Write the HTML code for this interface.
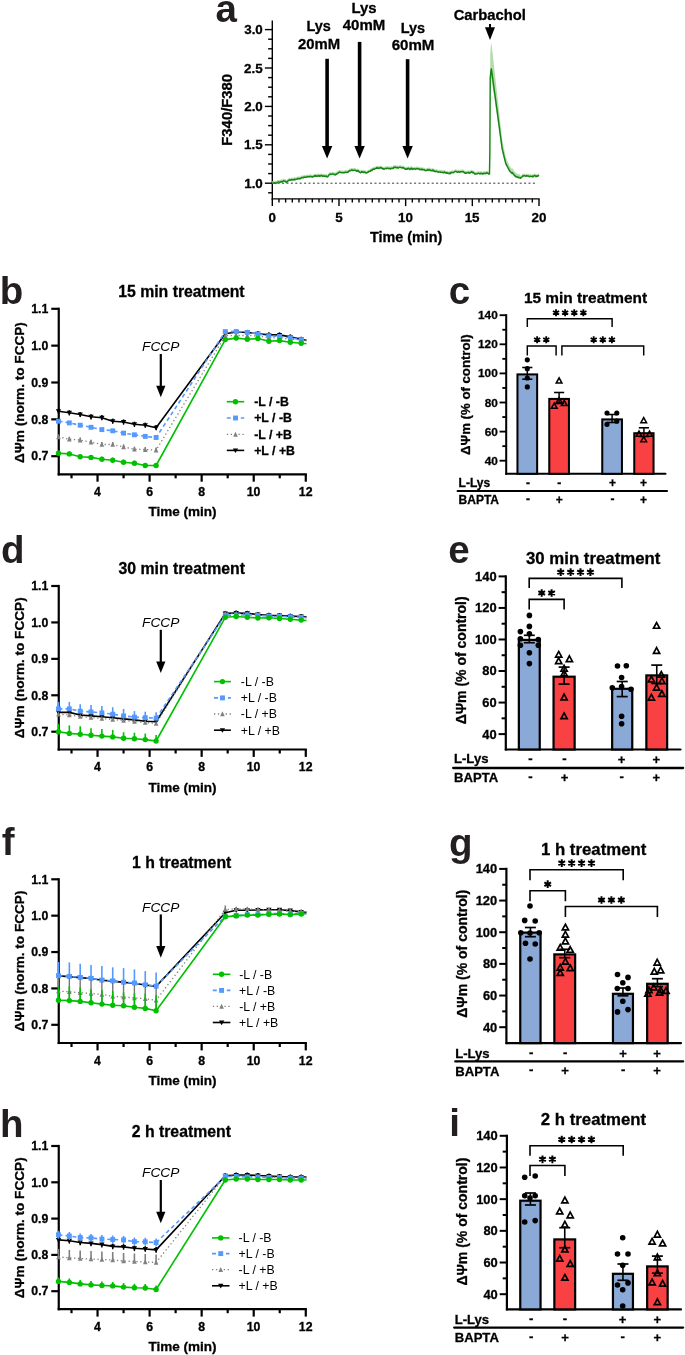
<!DOCTYPE html>
<html><head><meta charset="utf-8"><style>
html,body{margin:0;padding:0;background:#fff;}
svg{display:block;will-change:transform;}
text{font-family:"Liberation Sans",sans-serif;}
</style></head><body>
<svg width="685" height="1355" viewBox="0 0 685 1355">
<rect width="685" height="1355" fill="#fff"/>
<text x="215.54" y="21.81" font-size="38.5" style="font-weight:bold" fill="#231f20">a</text>
<line x1="272.30" y1="20.60" x2="272.30" y2="199.60" stroke="#000" stroke-width="1.4" />
<line x1="264.90" y1="29.60" x2="272.30" y2="29.60" stroke="#000" stroke-width="1.4" />
<line x1="268.10" y1="39.20" x2="272.30" y2="39.20" stroke="#000" stroke-width="1.4" />
<line x1="268.10" y1="48.80" x2="272.30" y2="48.80" stroke="#000" stroke-width="1.4" />
<line x1="268.10" y1="58.40" x2="272.30" y2="58.40" stroke="#000" stroke-width="1.4" />
<line x1="264.90" y1="68.00" x2="272.30" y2="68.00" stroke="#000" stroke-width="1.4" />
<line x1="268.10" y1="77.60" x2="272.30" y2="77.60" stroke="#000" stroke-width="1.4" />
<line x1="268.10" y1="87.20" x2="272.30" y2="87.20" stroke="#000" stroke-width="1.4" />
<line x1="268.10" y1="96.80" x2="272.30" y2="96.80" stroke="#000" stroke-width="1.4" />
<line x1="264.90" y1="106.40" x2="272.30" y2="106.40" stroke="#000" stroke-width="1.4" />
<line x1="268.10" y1="116.00" x2="272.30" y2="116.00" stroke="#000" stroke-width="1.4" />
<line x1="268.10" y1="125.60" x2="272.30" y2="125.60" stroke="#000" stroke-width="1.4" />
<line x1="268.10" y1="135.20" x2="272.30" y2="135.20" stroke="#000" stroke-width="1.4" />
<line x1="264.90" y1="144.80" x2="272.30" y2="144.80" stroke="#000" stroke-width="1.4" />
<line x1="268.10" y1="154.40" x2="272.30" y2="154.40" stroke="#000" stroke-width="1.4" />
<line x1="268.10" y1="164.00" x2="272.30" y2="164.00" stroke="#000" stroke-width="1.4" />
<line x1="268.10" y1="173.60" x2="272.30" y2="173.60" stroke="#000" stroke-width="1.4" />
<line x1="264.90" y1="183.20" x2="272.30" y2="183.20" stroke="#000" stroke-width="1.4" />
<line x1="268.10" y1="192.80" x2="272.30" y2="192.80" stroke="#000" stroke-width="1.4" />
<line x1="271.60" y1="198.90" x2="539.70" y2="198.90" stroke="#000" stroke-width="1.4" />
<line x1="272.30" y1="198.90" x2="272.30" y2="206.10" stroke="#000" stroke-width="1.4" />
<line x1="278.97" y1="198.90" x2="278.97" y2="202.50" stroke="#000" stroke-width="1.4" />
<line x1="285.63" y1="198.90" x2="285.63" y2="202.50" stroke="#000" stroke-width="1.4" />
<line x1="292.30" y1="198.90" x2="292.30" y2="202.50" stroke="#000" stroke-width="1.4" />
<line x1="298.97" y1="198.90" x2="298.97" y2="202.50" stroke="#000" stroke-width="1.4" />
<line x1="305.64" y1="198.90" x2="305.64" y2="202.50" stroke="#000" stroke-width="1.4" />
<line x1="312.31" y1="198.90" x2="312.31" y2="202.50" stroke="#000" stroke-width="1.4" />
<line x1="318.97" y1="198.90" x2="318.97" y2="202.50" stroke="#000" stroke-width="1.4" />
<line x1="325.64" y1="198.90" x2="325.64" y2="202.50" stroke="#000" stroke-width="1.4" />
<line x1="332.31" y1="198.90" x2="332.31" y2="202.50" stroke="#000" stroke-width="1.4" />
<line x1="338.98" y1="198.90" x2="338.98" y2="206.10" stroke="#000" stroke-width="1.4" />
<line x1="345.64" y1="198.90" x2="345.64" y2="202.50" stroke="#000" stroke-width="1.4" />
<line x1="352.31" y1="198.90" x2="352.31" y2="202.50" stroke="#000" stroke-width="1.4" />
<line x1="358.98" y1="198.90" x2="358.98" y2="202.50" stroke="#000" stroke-width="1.4" />
<line x1="365.64" y1="198.90" x2="365.64" y2="202.50" stroke="#000" stroke-width="1.4" />
<line x1="372.31" y1="198.90" x2="372.31" y2="202.50" stroke="#000" stroke-width="1.4" />
<line x1="378.98" y1="198.90" x2="378.98" y2="202.50" stroke="#000" stroke-width="1.4" />
<line x1="385.65" y1="198.90" x2="385.65" y2="202.50" stroke="#000" stroke-width="1.4" />
<line x1="392.32" y1="198.90" x2="392.32" y2="202.50" stroke="#000" stroke-width="1.4" />
<line x1="398.98" y1="198.90" x2="398.98" y2="202.50" stroke="#000" stroke-width="1.4" />
<line x1="405.65" y1="198.90" x2="405.65" y2="206.10" stroke="#000" stroke-width="1.4" />
<line x1="412.32" y1="198.90" x2="412.32" y2="202.50" stroke="#000" stroke-width="1.4" />
<line x1="418.99" y1="198.90" x2="418.99" y2="202.50" stroke="#000" stroke-width="1.4" />
<line x1="425.65" y1="198.90" x2="425.65" y2="202.50" stroke="#000" stroke-width="1.4" />
<line x1="432.32" y1="198.90" x2="432.32" y2="202.50" stroke="#000" stroke-width="1.4" />
<line x1="438.99" y1="198.90" x2="438.99" y2="202.50" stroke="#000" stroke-width="1.4" />
<line x1="445.66" y1="198.90" x2="445.66" y2="202.50" stroke="#000" stroke-width="1.4" />
<line x1="452.32" y1="198.90" x2="452.32" y2="202.50" stroke="#000" stroke-width="1.4" />
<line x1="458.99" y1="198.90" x2="458.99" y2="202.50" stroke="#000" stroke-width="1.4" />
<line x1="465.66" y1="198.90" x2="465.66" y2="202.50" stroke="#000" stroke-width="1.4" />
<line x1="472.33" y1="198.90" x2="472.33" y2="206.10" stroke="#000" stroke-width="1.4" />
<line x1="478.99" y1="198.90" x2="478.99" y2="202.50" stroke="#000" stroke-width="1.4" />
<line x1="485.66" y1="198.90" x2="485.66" y2="202.50" stroke="#000" stroke-width="1.4" />
<line x1="492.33" y1="198.90" x2="492.33" y2="202.50" stroke="#000" stroke-width="1.4" />
<line x1="499.00" y1="198.90" x2="499.00" y2="202.50" stroke="#000" stroke-width="1.4" />
<line x1="505.66" y1="198.90" x2="505.66" y2="202.50" stroke="#000" stroke-width="1.4" />
<line x1="512.33" y1="198.90" x2="512.33" y2="202.50" stroke="#000" stroke-width="1.4" />
<line x1="519.00" y1="198.90" x2="519.00" y2="202.50" stroke="#000" stroke-width="1.4" />
<line x1="525.66" y1="198.90" x2="525.66" y2="202.50" stroke="#000" stroke-width="1.4" />
<line x1="532.33" y1="198.90" x2="532.33" y2="202.50" stroke="#000" stroke-width="1.4" />
<line x1="539.00" y1="198.90" x2="539.00" y2="206.10" stroke="#000" stroke-width="1.4" />
<text x="244.21" y="34.24" font-size="13.40" style="font-weight:bold" fill="#000" stroke="#000" stroke-width="0.3" >3.0</text>
<text x="244.04" y="72.66" font-size="13.40" style="font-weight:bold" fill="#000" stroke="#000" stroke-width="0.3" >2.5</text>
<text x="244.21" y="111.06" font-size="13.40" style="font-weight:bold" fill="#000" stroke="#000" stroke-width="0.3" >2.0</text>
<text x="244.04" y="149.39" font-size="13.40" style="font-weight:bold" fill="#000" stroke="#000" stroke-width="0.3" >1.5</text>
<text x="244.21" y="187.86" font-size="13.40" style="font-weight:bold" fill="#000" stroke="#000" stroke-width="0.3" >1.0</text>
<text x="268.58" y="221.86" font-size="13.40" style="font-weight:bold" fill="#000" stroke="#000" stroke-width="0.3" >0</text>
<text x="335.22" y="221.79" font-size="13.40" style="font-weight:bold" fill="#000" stroke="#000" stroke-width="0.3" >5</text>
<text x="398.06" y="221.86" font-size="13.40" style="font-weight:bold" fill="#000" stroke="#000" stroke-width="0.3" >10</text>
<text x="464.65" y="221.79" font-size="13.40" style="font-weight:bold" fill="#000" stroke="#000" stroke-width="0.3" >15</text>
<text x="531.60" y="221.86" font-size="13.40" style="font-weight:bold" fill="#000" stroke="#000" stroke-width="0.3" >20</text>
<text x="370.02" y="241.80" font-size="14.35" style="font-weight:bold" fill="#000" stroke="#000" stroke-width="0.3" >Time (min)</text>
<text stroke="#000" stroke-width="0.3" transform="translate(231.83,145.70) rotate(-90)" font-size="14.85" style="font-weight:bold" fill="#000">F340/F380</text>
<line x1="273.30" y1="183.20" x2="537.00" y2="183.20" stroke="#111" stroke-width="0.85" stroke-dasharray="2 2.4"/>
<path d="M272.30,181.07 L272.68,181.04 L273.06,181.24 L273.44,181.06 L273.82,180.82 L274.20,180.70 L274.59,181.09 L274.97,180.72 L275.35,180.99 L275.73,181.37 L276.11,180.95 L276.49,180.97 L276.87,180.73 L277.25,180.34 L277.63,180.14 L278.01,179.83 L278.40,179.99 L278.78,179.93 L279.16,179.97 L279.54,180.07 L279.92,180.11 L280.30,179.94 L280.68,179.86 L281.06,179.30 L281.44,179.25 L281.82,179.68 L282.21,179.97 L282.59,179.50 L282.97,178.93 L283.35,178.85 L283.73,178.62 L284.11,178.81 L284.49,178.96 L284.87,178.98 L285.25,179.54 L285.63,179.13 L286.02,179.47 L286.40,180.12 L286.78,180.22 L287.16,179.53 L287.54,179.37 L287.92,178.85 L288.30,178.68 L288.68,178.27 L289.06,178.02 L289.44,177.74 L289.83,177.67 L290.21,178.12 L290.59,178.22 L290.97,177.91 L291.35,177.74 L291.73,177.44 L292.11,177.75 L292.49,177.68 L292.87,177.68 L293.25,177.40 L293.64,177.71 L294.02,177.82 L294.40,177.08 L294.78,177.33 L295.16,177.66 L295.54,177.20 L295.92,177.15 L296.30,177.06 L296.68,177.10 L297.06,176.90 L297.45,176.68 L297.83,176.24 L298.21,176.53 L298.59,176.57 L298.97,176.45 L299.35,176.23 L299.73,176.76 L300.11,176.59 L300.49,176.40 L300.88,176.33 L301.26,175.49 L301.64,175.55 L302.02,175.52 L302.40,175.42 L302.78,175.39 L303.16,175.72 L303.54,175.42 L303.92,174.96 L304.30,175.11 L304.69,174.93 L305.07,174.74 L305.45,175.24 L305.83,175.31 L306.21,175.10 L306.59,174.86 L306.97,174.75 L307.35,174.45 L307.73,174.60 L308.11,174.64 L308.50,174.78 L308.88,174.65 L309.26,174.43 L309.64,174.40 L310.02,174.68 L310.40,174.31 L310.78,174.21 L311.16,174.46 L311.54,174.63 L311.92,174.81 L312.31,174.52 L312.69,174.96 L313.07,174.68 L313.45,174.34 L313.83,174.26 L314.21,173.91 L314.59,173.66 L314.97,174.12 L315.35,173.92 L315.73,173.45 L316.12,173.51 L316.50,174.12 L316.88,174.08 L317.26,174.09 L317.64,173.76 L318.02,173.95 L318.40,173.45 L318.78,173.78 L319.16,173.46 L319.54,174.14 L319.93,173.78 L320.31,173.84 L320.69,173.90 L321.07,173.39 L321.45,173.32 L321.83,173.44 L322.21,173.73 L322.59,174.24 L322.97,174.15 L323.35,173.95 L323.74,173.69 L324.12,173.91 L324.50,174.09 L324.88,174.16 L325.26,174.14 L325.64,174.34 L326.02,173.89 L326.40,173.89 L326.78,174.44 L327.16,174.63 L327.55,174.78 L327.93,174.29 L328.31,173.81 L328.69,173.11 L329.07,172.80 L329.45,172.56 L329.83,172.34 L330.21,171.82 L330.59,172.16 L330.97,172.39 L331.36,172.21 L331.74,172.13 L332.12,171.94 L332.50,171.77 L332.88,171.80 L333.26,172.12 L333.64,172.11 L334.02,172.40 L334.40,172.28 L334.78,172.28 L335.17,172.86 L335.55,172.24 L335.93,172.09 L336.31,172.35 L336.69,172.11 L337.07,171.57 L337.45,171.03 L337.83,171.00 L338.21,171.07 L338.59,170.48 L338.98,170.26 L339.36,170.15 L339.74,169.81 L340.12,170.32 L340.50,170.25 L340.88,170.48 L341.26,170.50 L341.64,170.51 L342.02,170.43 L342.40,170.42 L342.79,170.39 L343.17,170.60 L343.55,170.72 L343.93,170.51 L344.31,170.52 L344.69,170.29 L345.07,170.27 L345.45,170.07 L345.83,170.25 L346.21,170.48 L346.60,170.09 L346.98,170.38 L347.36,169.86 L347.74,170.19 L348.12,169.94 L348.50,169.43 L348.88,169.25 L349.26,168.59 L349.64,168.44 L350.02,168.67 L350.41,168.46 L350.79,168.40 L351.17,167.99 L351.55,167.94 L351.93,167.86 L352.31,168.30 L352.69,167.99 L353.07,168.41 L353.45,168.25 L353.83,168.15 L354.22,168.06 L354.60,168.03 L354.98,168.03 L355.36,168.14 L355.74,168.31 L356.12,168.58 L356.50,169.21 L356.88,168.92 L357.26,168.98 L357.64,168.45 L358.03,168.51 L358.41,168.84 L358.79,169.33 L359.17,169.80 L359.55,169.78 L359.93,170.31 L360.31,170.52 L360.69,170.53 L361.07,170.27 L361.45,169.72 L361.84,169.37 L362.22,169.74 L362.60,170.18 L362.98,169.85 L363.36,170.26 L363.74,170.18 L364.12,170.35 L364.50,169.95 L364.88,170.00 L365.26,169.96 L365.64,170.72 L366.03,170.90 L366.41,170.71 L366.79,170.67 L367.17,170.47 L367.55,170.14 L367.93,170.32 L368.31,169.68 L368.69,169.40 L369.07,169.38 L369.46,169.42 L369.84,169.22 L370.22,169.20 L370.60,168.45 L370.98,168.31 L371.36,167.91 L371.74,168.55 L372.12,168.24 L372.50,167.39 L372.88,167.07 L373.26,167.10 L373.65,166.78 L374.03,167.17 L374.41,167.16 L374.79,166.72 L375.17,166.34 L375.55,166.47 L375.93,166.38 L376.31,166.09 L376.69,165.72 L377.08,166.06 L377.46,165.53 L377.84,166.03 L378.22,166.06 L378.60,166.01 L378.98,166.32 L379.36,166.20 L379.74,165.78 L380.12,165.39 L380.50,165.65 L380.88,165.65 L381.27,166.04 L381.65,165.61 L382.03,166.07 L382.41,166.65 L382.79,166.55 L383.17,166.67 L383.55,166.66 L383.93,167.06 L384.31,166.70 L384.70,166.73 L385.08,166.58 L385.46,166.30 L385.84,166.32 L386.22,166.52 L386.60,166.44 L386.98,166.04 L387.36,166.21 L387.74,166.13 L388.12,166.47 L388.50,166.39 L388.89,166.36 L389.27,166.20 L389.65,166.53 L390.03,166.76 L390.41,166.92 L390.79,166.60 L391.17,166.10 L391.55,166.20 L391.93,166.31 L392.32,166.41 L392.70,166.29 L393.08,165.99 L393.46,165.31 L393.84,165.75 L394.22,165.07 L394.60,165.18 L394.98,165.27 L395.36,165.17 L395.74,165.00 L396.12,165.80 L396.51,165.62 L396.89,165.52 L397.27,165.18 L397.65,165.41 L398.03,166.03 L398.41,165.73 L398.79,165.74 L399.17,165.29 L399.55,165.17 L399.94,165.14 L400.32,165.25 L400.70,165.30 L401.08,165.57 L401.46,165.71 L401.84,165.61 L402.22,165.50 L402.60,165.51 L402.98,165.83 L403.36,165.49 L403.75,165.82 L404.13,166.20 L404.51,166.27 L404.89,166.62 L405.27,167.19 L405.65,167.05 L406.03,166.86 L406.41,166.60 L406.79,167.10 L407.17,166.61 L407.56,166.81 L407.94,166.69 L408.32,166.04 L408.70,166.50 L409.08,166.47 L409.46,166.92 L409.84,167.39 L410.22,167.21 L410.60,166.47 L410.98,166.03 L411.37,166.03 L411.75,166.22 L412.13,167.40 L412.51,166.95 L412.89,166.57 L413.27,166.67 L413.65,166.96 L414.03,166.97 L414.41,166.95 L414.79,166.64 L415.18,166.95 L415.56,167.10 L415.94,166.81 L416.32,166.59 L416.70,166.41 L417.08,166.42 L417.46,166.55 L417.84,166.86 L418.22,166.86 L418.60,166.58 L418.99,166.85 L419.37,166.91 L419.75,167.58 L420.13,167.20 L420.51,167.22 L420.89,167.62 L421.27,167.26 L421.65,166.98 L422.03,167.60 L422.41,167.39 L422.80,167.21 L423.18,167.68 L423.56,167.65 L423.94,167.53 L424.32,167.78 L424.70,167.75 L425.08,168.41 L425.46,168.46 L425.84,168.51 L426.22,168.42 L426.61,168.17 L426.99,167.94 L427.37,167.77 L427.75,167.49 L428.13,168.25 L428.51,167.85 L428.89,167.84 L429.27,167.85 L429.65,167.63 L430.03,167.75 L430.42,168.52 L430.80,168.25 L431.18,168.50 L431.56,168.53 L431.94,168.68 L432.32,168.20 L432.70,167.95 L433.08,168.76 L433.46,168.42 L433.84,168.21 L434.23,169.03 L434.61,169.40 L434.99,169.34 L435.37,169.43 L435.75,169.45 L436.13,168.99 L436.51,169.38 L436.89,169.37 L437.27,169.60 L437.65,169.66 L438.04,169.84 L438.42,170.07 L438.80,169.93 L439.18,169.97 L439.56,169.91 L439.94,169.73 L440.32,170.09 L440.70,170.06 L441.08,170.03 L441.46,170.03 L441.85,170.01 L442.23,170.27 L442.61,170.25 L442.99,170.57 L443.37,170.24 L443.75,170.56 L444.13,170.21 L444.51,169.65 L444.89,170.50 L445.27,170.57 L445.66,170.46 L446.04,171.02 L446.42,170.53 L446.80,170.90 L447.18,170.62 L447.56,171.07 L447.94,171.26 L448.32,171.46 L448.70,171.01 L449.08,171.55 L449.47,171.32 L449.85,170.99 L450.23,171.55 L450.61,170.55 L450.99,170.86 L451.37,170.25 L451.75,170.40 L452.13,170.21 L452.51,170.48 L452.89,170.65 L453.27,170.43 L453.66,170.21 L454.04,169.93 L454.42,169.68 L454.80,169.50 L455.18,169.24 L455.56,169.44 L455.94,169.27 L456.32,169.47 L456.70,169.71 L457.09,169.82 L457.47,170.20 L457.85,169.94 L458.23,169.52 L458.61,169.56 L458.99,169.47 L459.37,170.04 L459.75,170.13 L460.13,169.95 L460.51,169.62 L460.89,169.59 L461.28,169.46 L461.66,169.52 L462.04,169.67 L462.42,169.68 L462.80,169.37 L463.18,169.43 L463.56,169.78 L463.94,170.07 L464.32,170.73 L464.71,170.81 L465.09,170.60 L465.47,171.06 L465.85,170.77 L466.23,171.02 L466.61,170.79 L466.99,170.73 L467.37,170.73 L467.75,170.54 L468.13,170.43 L468.51,170.18 L468.90,170.70 L469.28,171.03 L469.66,170.76 L470.04,170.62 L470.42,170.34 L470.80,170.56 L471.18,170.00 L471.56,169.68 L471.94,169.63 L472.33,170.15 L472.71,170.61 L473.09,170.42 L473.47,170.35 L473.85,170.72 L474.23,171.21 L474.61,171.79 L474.99,171.91 L475.37,171.81 L475.75,171.86 L476.14,171.86 L476.52,171.71 L476.90,171.71 L477.28,171.42 L477.66,171.36 L478.04,171.26 L478.42,171.07 L478.80,171.39 L479.18,171.41 L479.56,171.67 L479.95,171.37 L480.33,171.16 L480.71,171.63 L481.09,171.18 L481.47,171.30 L481.85,171.38 L482.23,171.72 L482.61,171.94 L482.99,171.22 L483.37,171.64 L483.75,171.37 L484.14,171.06 L484.52,171.40 L484.90,171.29 L485.28,171.01 L485.66,171.21 L486.04,171.51 L486.42,170.93 L486.80,170.96 L487.18,170.61 L487.57,170.91 L487.95,171.21 L488.33,171.72 L488.71,171.64 L489.09,171.98 L489.47,171.90 L489.85,151.59 L490.23,53.61 L490.61,49.18 L490.99,44.76 L491.38,42.67 L491.76,46.04 L492.14,49.42 L492.52,52.79 L492.90,56.17 L493.28,59.54 L493.66,62.91 L494.04,66.29 L494.42,69.66 L494.80,73.04 L495.19,76.41 L495.57,79.79 L495.95,83.16 L496.33,86.53 L496.71,89.91 L497.09,93.28 L497.47,96.66 L497.85,100.08 L498.23,103.56 L498.61,107.03 L499.00,110.51 L499.38,113.98 L499.76,117.46 L500.14,120.94 L500.52,124.41 L500.90,127.89 L501.28,131.36 L501.66,134.84 L502.04,138.31 L502.42,140.34 L502.81,142.29 L503.19,144.23 L503.57,146.18 L503.95,148.13 L504.33,150.07 L504.71,152.02 L505.09,153.97 L505.47,155.91 L505.85,157.33 L506.23,158.22 L506.62,159.10 L507.00,159.99 L507.38,160.87 L507.76,161.76 L508.14,162.64 L508.52,163.53 L508.90,164.41 L509.28,165.30 L509.66,166.18 L510.04,166.63 L510.43,167.08 L510.81,167.53 L511.19,167.98 L511.57,168.43 L511.95,168.89 L512.33,168.27 L512.71,168.56 L513.09,169.53 L513.47,170.31 L513.85,170.54 L514.24,171.46 L514.62,171.57 L515.00,171.97 L515.38,173.09 L515.76,172.60 L516.14,173.14 L516.52,173.31 L516.90,173.68 L517.28,173.18 L517.66,173.74 L518.05,174.10 L518.43,174.09 L518.81,174.35 L519.19,174.18 L519.57,174.26 L519.95,174.44 L520.33,176.03 L520.71,175.73 L521.09,175.43 L521.47,175.15 L521.86,174.96 L522.24,174.53 L522.62,174.04 L523.00,173.52 L523.38,173.78 L523.76,173.85 L524.14,173.55 L524.52,173.67 L524.90,173.60 L525.28,173.84 L525.66,174.23 L526.05,174.01 L526.43,173.64 L526.81,173.51 L527.19,173.69 L527.57,173.90 L527.95,173.76 L528.33,173.71 L528.71,174.22 L529.09,174.48 L529.48,174.56 L529.86,174.20 L530.24,174.02 L530.62,174.23 L531.00,174.34 L531.38,174.42 L531.76,174.46 L532.14,174.25 L532.52,173.96 L532.90,174.79 L533.29,174.49 L533.67,174.03 L534.05,173.72 L534.43,173.46 L534.81,173.26 L535.19,173.69 L535.57,173.82 L535.95,174.48 L536.33,173.90 L536.71,174.41 L537.10,173.79 L537.48,174.05 L537.86,173.91 L538.24,173.61 L538.62,173.53 L539.00,173.83 L539.00,176.59 L538.62,176.30 L538.24,176.37 L537.86,176.67 L537.48,176.81 L537.10,176.55 L536.71,177.18 L536.33,176.67 L535.95,177.24 L535.57,176.59 L535.19,176.45 L534.81,176.02 L534.43,176.22 L534.05,176.49 L533.67,176.79 L533.29,177.25 L532.90,177.56 L532.52,176.72 L532.14,177.02 L531.76,177.22 L531.38,177.19 L531.00,177.11 L530.62,177.00 L530.24,176.78 L529.86,176.96 L529.48,177.32 L529.09,177.25 L528.71,176.98 L528.33,176.48 L527.95,176.52 L527.57,176.67 L527.19,176.45 L526.81,176.27 L526.43,176.41 L526.05,176.77 L525.66,177.00 L525.28,176.60 L524.90,176.36 L524.52,176.43 L524.14,176.31 L523.76,176.61 L523.38,176.55 L523.00,176.29 L522.62,176.80 L522.24,177.29 L521.86,177.73 L521.47,177.92 L521.09,178.20 L520.71,178.49 L520.33,178.80 L519.95,178.79 L519.57,178.65 L519.19,178.59 L518.81,178.72 L518.43,178.52 L518.05,178.53 L517.66,178.26 L517.28,177.83 L516.90,178.21 L516.52,177.93 L516.14,177.80 L515.76,177.39 L515.38,177.76 L515.00,176.91 L514.62,176.60 L514.24,176.53 L513.85,175.82 L513.47,175.65 L513.09,175.06 L512.71,174.31 L512.33,174.10 L511.95,174.57 L511.57,174.22 L511.19,173.88 L510.81,173.54 L510.43,173.19 L510.04,172.85 L509.66,172.51 L509.28,171.84 L508.90,171.16 L508.52,170.49 L508.14,169.82 L507.76,169.14 L507.38,168.47 L507.00,167.80 L506.62,167.13 L506.23,166.45 L505.85,165.78 L505.47,164.70 L505.09,163.22 L504.71,161.74 L504.33,160.26 L503.95,158.78 L503.57,157.30 L503.19,155.82 L502.81,154.34 L502.42,152.86 L502.04,151.32 L501.66,148.68 L501.28,146.04 L500.90,143.39 L500.52,140.75 L500.14,138.11 L499.76,135.47 L499.38,132.82 L499.00,130.18 L498.61,127.54 L498.23,124.89 L497.85,122.25 L497.47,119.65 L497.09,117.08 L496.71,114.52 L496.33,111.95 L495.95,109.39 L495.57,106.82 L495.19,104.25 L494.80,101.69 L494.42,99.12 L494.04,96.56 L493.66,93.99 L493.28,91.43 L492.90,88.86 L492.52,86.30 L492.14,83.73 L491.76,81.17 L491.38,78.60 L490.99,80.19 L490.61,83.55 L490.23,86.91 L489.85,154.36 L489.47,174.67 L489.09,174.75 L488.71,174.40 L488.33,174.48 L487.95,173.97 L487.57,173.68 L487.18,173.38 L486.80,173.72 L486.42,173.70 L486.04,174.28 L485.66,173.97 L485.28,173.78 L484.90,174.05 L484.52,174.17 L484.14,173.83 L483.75,174.14 L483.37,174.40 L482.99,173.99 L482.61,174.70 L482.23,174.49 L481.85,174.15 L481.47,174.07 L481.09,173.94 L480.71,174.39 L480.33,173.92 L479.95,174.13 L479.56,174.44 L479.18,174.17 L478.80,174.16 L478.42,173.83 L478.04,174.03 L477.66,174.13 L477.28,174.18 L476.90,174.48 L476.52,174.48 L476.14,174.62 L475.75,174.62 L475.37,174.57 L474.99,174.68 L474.61,174.55 L474.23,173.97 L473.85,173.49 L473.47,173.12 L473.09,173.18 L472.71,173.38 L472.33,172.91 L471.94,172.40 L471.56,172.45 L471.18,172.76 L470.80,173.32 L470.42,173.10 L470.04,173.38 L469.66,173.53 L469.28,173.80 L468.90,173.46 L468.51,172.94 L468.13,173.19 L467.75,173.31 L467.37,173.50 L466.99,173.50 L466.61,173.56 L466.23,173.78 L465.85,173.53 L465.47,173.83 L465.09,173.36 L464.71,173.57 L464.32,173.49 L463.94,172.83 L463.56,172.55 L463.18,172.19 L462.80,172.14 L462.42,172.44 L462.04,172.43 L461.66,172.28 L461.28,172.22 L460.89,172.35 L460.51,172.38 L460.13,172.71 L459.75,172.89 L459.37,172.81 L458.99,172.24 L458.61,172.33 L458.23,172.28 L457.85,172.71 L457.47,172.96 L457.09,172.59 L456.70,172.47 L456.32,172.23 L455.94,172.03 L455.56,172.20 L455.18,172.00 L454.80,172.26 L454.42,172.44 L454.04,172.70 L453.66,172.97 L453.27,173.20 L452.89,173.42 L452.51,173.24 L452.13,172.98 L451.75,173.17 L451.37,173.02 L450.99,173.62 L450.61,173.31 L450.23,174.31 L449.85,173.75 L449.47,174.08 L449.08,174.31 L448.70,173.77 L448.32,174.22 L447.94,174.02 L447.56,173.84 L447.18,173.38 L446.80,173.66 L446.42,173.30 L446.04,173.78 L445.66,173.23 L445.27,173.34 L444.89,173.27 L444.51,172.42 L444.13,172.97 L443.75,173.33 L443.37,173.01 L442.99,173.34 L442.61,173.01 L442.23,173.04 L441.85,172.78 L441.46,172.79 L441.08,172.79 L440.70,172.82 L440.32,172.86 L439.94,172.49 L439.56,172.67 L439.18,172.74 L438.80,172.69 L438.42,172.83 L438.04,172.60 L437.65,172.42 L437.27,172.36 L436.89,172.13 L436.51,172.15 L436.13,171.75 L435.75,172.22 L435.37,172.20 L434.99,172.11 L434.61,172.17 L434.23,171.79 L433.84,170.98 L433.46,171.19 L433.08,171.53 L432.70,170.72 L432.32,170.96 L431.94,171.44 L431.56,171.29 L431.18,171.27 L430.80,171.02 L430.42,171.28 L430.03,170.51 L429.65,170.40 L429.27,170.61 L428.89,170.60 L428.51,170.62 L428.13,171.01 L427.75,170.26 L427.37,170.54 L426.99,170.71 L426.61,170.94 L426.22,171.18 L425.84,171.27 L425.46,171.22 L425.08,171.17 L424.70,170.51 L424.32,170.55 L423.94,170.30 L423.56,170.41 L423.18,170.44 L422.80,169.97 L422.41,170.16 L422.03,170.36 L421.65,169.74 L421.27,170.02 L420.89,170.38 L420.51,169.99 L420.13,169.96 L419.75,170.34 L419.37,169.67 L418.99,169.61 L418.60,169.34 L418.22,169.63 L417.84,169.62 L417.46,169.31 L417.08,169.19 L416.70,169.18 L416.32,169.35 L415.94,169.58 L415.56,169.87 L415.18,169.71 L414.79,169.41 L414.41,169.71 L414.03,169.74 L413.65,169.72 L413.27,169.44 L412.89,169.34 L412.51,169.72 L412.13,170.17 L411.75,168.98 L411.37,168.79 L410.98,168.79 L410.60,169.24 L410.22,169.97 L409.84,170.16 L409.46,169.69 L409.08,169.24 L408.70,169.27 L408.32,168.80 L407.94,169.45 L407.56,169.58 L407.17,169.38 L406.79,169.86 L406.41,169.36 L406.03,169.63 L405.65,169.81 L405.27,169.96 L404.89,169.38 L404.51,169.04 L404.13,168.96 L403.75,168.58 L403.36,168.26 L402.98,168.60 L402.60,168.27 L402.22,168.27 L401.84,168.38 L401.46,168.48 L401.08,168.33 L400.70,168.06 L400.32,168.02 L399.94,167.90 L399.55,167.93 L399.17,168.05 L398.79,168.51 L398.41,168.50 L398.03,168.80 L397.65,168.17 L397.27,167.95 L396.89,168.28 L396.51,168.38 L396.12,168.56 L395.74,167.76 L395.36,167.93 L394.98,168.03 L394.60,167.94 L394.22,167.84 L393.84,168.52 L393.46,168.08 L393.08,168.75 L392.70,169.05 L392.32,169.18 L391.93,169.07 L391.55,168.97 L391.17,168.86 L390.79,169.37 L390.41,169.68 L390.03,169.52 L389.65,169.29 L389.27,168.97 L388.89,169.13 L388.50,169.16 L388.12,169.24 L387.74,168.89 L387.36,168.97 L386.98,168.80 L386.60,169.20 L386.22,169.28 L385.84,169.08 L385.46,169.06 L385.08,169.35 L384.70,169.49 L384.31,169.46 L383.93,169.83 L383.55,169.42 L383.17,169.44 L382.79,169.32 L382.41,169.41 L382.03,168.84 L381.65,168.38 L381.27,168.80 L380.88,168.42 L380.50,168.42 L380.12,168.15 L379.74,168.54 L379.36,168.96 L378.98,169.09 L378.60,168.78 L378.22,168.83 L377.84,168.79 L377.46,168.29 L377.08,168.82 L376.69,168.48 L376.31,168.86 L375.93,169.14 L375.55,169.23 L375.17,169.11 L374.79,169.48 L374.41,169.92 L374.03,169.94 L373.65,169.54 L373.26,169.86 L372.88,169.84 L372.50,170.15 L372.12,171.01 L371.74,171.31 L371.36,170.68 L370.98,171.08 L370.60,171.21 L370.22,171.97 L369.84,171.99 L369.46,172.19 L369.07,172.15 L368.69,172.16 L368.31,172.44 L367.93,173.08 L367.55,172.91 L367.17,173.24 L366.79,173.43 L366.41,173.48 L366.03,173.67 L365.64,173.49 L365.26,172.72 L364.88,172.76 L364.50,172.72 L364.12,173.11 L363.74,172.94 L363.36,173.02 L362.98,172.61 L362.60,172.94 L362.22,172.51 L361.84,172.14 L361.45,172.48 L361.07,173.04 L360.69,173.30 L360.31,173.29 L359.93,173.07 L359.55,172.55 L359.17,172.56 L358.79,172.10 L358.41,171.61 L358.03,171.27 L357.64,171.21 L357.26,171.75 L356.88,171.68 L356.50,171.97 L356.12,171.35 L355.74,171.07 L355.36,170.90 L354.98,170.79 L354.60,170.79 L354.22,170.82 L353.83,170.92 L353.45,171.02 L353.07,171.17 L352.69,170.75 L352.31,171.07 L351.93,170.63 L351.55,170.70 L351.17,170.76 L350.79,171.17 L350.41,171.22 L350.02,171.43 L349.64,171.21 L349.26,171.36 L348.88,172.02 L348.50,172.20 L348.12,172.70 L347.74,172.96 L347.36,172.63 L346.98,173.15 L346.60,172.86 L346.21,173.25 L345.83,173.01 L345.45,172.83 L345.07,173.03 L344.69,173.05 L344.31,173.28 L343.93,173.28 L343.55,173.49 L343.17,173.37 L342.79,173.16 L342.40,173.19 L342.02,173.20 L341.64,173.27 L341.26,173.26 L340.88,173.24 L340.50,173.01 L340.12,173.09 L339.74,172.58 L339.36,172.92 L338.98,173.02 L338.59,173.24 L338.21,173.84 L337.83,173.76 L337.45,173.79 L337.07,174.34 L336.69,174.87 L336.31,175.11 L335.93,174.86 L335.55,175.01 L335.17,175.63 L334.78,175.04 L334.40,175.04 L334.02,175.16 L333.64,174.88 L333.26,174.88 L332.88,174.56 L332.50,174.54 L332.12,174.71 L331.74,174.90 L331.36,174.97 L330.97,175.16 L330.59,174.92 L330.21,174.58 L329.83,175.11 L329.45,175.33 L329.07,175.56 L328.69,175.87 L328.31,176.57 L327.93,177.05 L327.55,177.54 L327.16,177.39 L326.78,177.21 L326.40,176.66 L326.02,176.66 L325.64,177.11 L325.26,176.91 L324.88,176.93 L324.50,176.85 L324.12,176.67 L323.74,176.46 L323.35,176.71 L322.97,176.91 L322.59,177.01 L322.21,176.49 L321.83,176.21 L321.45,176.08 L321.07,176.15 L320.69,176.66 L320.31,176.61 L319.93,176.54 L319.54,176.90 L319.16,176.22 L318.78,176.55 L318.40,176.22 L318.02,176.72 L317.64,176.53 L317.26,176.85 L316.88,176.84 L316.50,176.89 L316.12,176.28 L315.73,176.22 L315.35,176.69 L314.97,176.88 L314.59,176.42 L314.21,176.68 L313.83,177.02 L313.45,177.10 L313.07,177.45 L312.69,177.73 L312.31,177.28 L311.92,177.57 L311.54,177.40 L311.16,177.23 L310.78,176.97 L310.40,177.08 L310.02,177.44 L309.64,177.16 L309.26,177.20 L308.88,177.41 L308.50,177.55 L308.11,177.40 L307.73,177.36 L307.35,177.21 L306.97,177.52 L306.59,177.62 L306.21,177.86 L305.83,178.08 L305.45,178.00 L305.07,177.51 L304.69,177.70 L304.30,177.88 L303.92,177.73 L303.54,178.19 L303.16,178.48 L302.78,178.15 L302.40,178.18 L302.02,178.29 L301.64,178.31 L301.26,178.26 L300.88,179.09 L300.49,179.16 L300.11,179.35 L299.73,179.52 L299.35,179.00 L298.97,179.21 L298.59,179.33 L298.21,179.30 L297.83,179.00 L297.45,179.44 L297.06,179.67 L296.68,179.86 L296.30,179.83 L295.92,179.92 L295.54,179.97 L295.16,180.42 L294.78,180.09 L294.40,179.84 L294.02,180.59 L293.64,180.48 L293.25,180.16 L292.87,180.44 L292.49,180.44 L292.11,180.51 L291.73,180.21 L291.35,180.50 L290.97,180.67 L290.59,180.99 L290.21,180.88 L289.83,180.43 L289.44,180.50 L289.06,180.79 L288.68,181.03 L288.30,181.44 L287.92,181.62 L287.54,182.13 L287.16,182.30 L286.78,182.98 L286.40,182.88 L286.02,182.24 L285.63,181.89 L285.25,182.31 L284.87,181.75 L284.49,181.72 L284.11,181.58 L283.73,181.39 L283.35,181.62 L282.97,181.69 L282.59,182.26 L282.21,182.74 L281.82,182.44 L281.44,182.01 L281.06,182.06 L280.68,182.63 L280.30,182.70 L279.92,182.88 L279.54,182.83 L279.16,182.73 L278.78,182.70 L278.40,182.76 L278.01,182.59 L277.63,182.91 L277.25,183.11 L276.87,183.50 L276.49,183.74 L276.11,183.72 L275.73,184.14 L275.35,183.75 L274.97,183.48 L274.59,183.86 L274.20,183.46 L273.82,183.59 L273.44,183.83 L273.06,184.00 L272.68,183.80 L272.30,183.84 Z" fill="#b3dcaa" />
<polyline points="272.30,183.22 272.68,183.19 273.06,183.39 273.44,183.21 273.82,182.97 274.20,182.85 274.59,183.24 274.97,182.87 275.35,183.14 275.73,183.53 276.11,183.10 276.49,183.12 276.87,182.88 277.25,182.49 277.63,182.29 278.01,181.98 278.40,182.14 278.78,182.08 279.16,182.12 279.54,182.22 279.92,182.26 280.30,182.09 280.68,182.01 281.06,181.45 281.44,181.40 281.82,181.83 282.21,182.12 282.59,181.65 282.97,181.08 283.35,181.00 283.73,180.77 284.11,180.96 284.49,181.11 284.87,181.13 285.25,181.70 285.63,181.28 286.02,181.62 286.40,182.27 286.78,182.37 287.16,181.68 287.54,181.52 287.92,181.00 288.30,180.83 288.68,180.42 289.06,180.17 289.44,179.89 289.83,179.82 290.21,180.27 290.59,180.37 290.97,180.06 291.35,179.89 291.73,179.59 292.11,179.90 292.49,179.83 292.87,179.83 293.25,179.55 293.64,179.86 294.02,179.97 294.40,179.23 294.78,179.48 295.16,179.81 295.54,179.35 295.92,179.31 296.30,179.21 296.68,179.25 297.06,179.05 297.45,178.83 297.83,178.39 298.21,178.68 298.59,178.72 298.97,178.60 299.35,178.38 299.73,178.91 300.11,178.74 300.49,178.55 300.88,178.48 301.26,177.64 301.64,177.70 302.02,177.67 302.40,177.57 302.78,177.54 303.16,177.87 303.54,177.57 303.92,177.11 304.30,177.27 304.69,177.08 305.07,176.89 305.45,177.39 305.83,177.46 306.21,177.25 306.59,177.01 306.97,176.90 307.35,176.60 307.73,176.75 308.11,176.79 308.50,176.93 308.88,176.80 309.26,176.58 309.64,176.55 310.02,176.83 310.40,176.46 310.78,176.36 311.16,176.61 311.54,176.78 311.92,176.96 312.31,176.67 312.69,177.11 313.07,176.83 313.45,176.49 313.83,176.41 314.21,176.06 314.59,175.81 314.97,176.27 315.35,176.07 315.73,175.60 316.12,175.66 316.50,176.27 316.88,176.23 317.26,176.24 317.64,175.91 318.02,176.10 318.40,175.60 318.78,175.93 319.16,175.61 319.54,176.29 319.93,175.93 320.31,175.99 320.69,176.05 321.07,175.54 321.45,175.47 321.83,175.59 322.21,175.88 322.59,176.39 322.97,176.30 323.35,176.10 323.74,175.84 324.12,176.06 324.50,176.24 324.88,176.31 325.26,176.29 325.64,176.49 326.02,176.04 326.40,176.04 326.78,176.59 327.16,176.78 327.55,176.93 327.93,176.44 328.31,175.96 328.69,175.26 329.07,174.95 329.45,174.71 329.83,174.49 330.21,173.97 330.59,174.31 330.97,174.54 331.36,174.36 331.74,174.28 332.12,174.09 332.50,173.92 332.88,173.95 333.26,174.27 333.64,174.26 334.02,174.55 334.40,174.43 334.78,174.43 335.17,175.01 335.55,174.40 335.93,174.24 336.31,174.50 336.69,174.26 337.07,173.72 337.45,173.18 337.83,173.15 338.21,173.22 338.59,172.63 338.98,172.41 339.36,172.30 339.74,171.96 340.12,172.47 340.50,172.40 340.88,172.63 341.26,172.65 341.64,172.66 342.02,172.59 342.40,172.57 342.79,172.54 343.17,172.75 343.55,172.87 343.93,172.66 344.31,172.67 344.69,172.44 345.07,172.42 345.45,172.22 345.83,172.40 346.21,172.63 346.60,172.24 346.98,172.53 347.36,172.01 347.74,172.34 348.12,172.09 348.50,171.58 348.88,171.40 349.26,170.74 349.64,170.59 350.02,170.82 350.41,170.61 350.79,170.55 351.17,170.14 351.55,170.09 351.93,170.01 352.31,170.45 352.69,170.14 353.07,170.56 353.45,170.40 353.83,170.30 354.22,170.21 354.60,170.18 354.98,170.18 355.36,170.29 355.74,170.46 356.12,170.74 356.50,171.36 356.88,171.07 357.26,171.13 357.64,170.60 358.03,170.66 358.41,170.99 358.79,171.48 359.17,171.95 359.55,171.93 359.93,172.46 360.31,172.67 360.69,172.68 361.07,172.42 361.45,171.87 361.84,171.52 362.22,171.89 362.60,172.33 362.98,172.00 363.36,172.41 363.74,172.33 364.12,172.50 364.50,172.10 364.88,172.15 365.26,172.11 365.64,172.87 366.03,173.05 366.41,172.86 366.79,172.82 367.17,172.62 367.55,172.29 367.93,172.47 368.31,171.83 368.69,171.55 369.07,171.53 369.46,171.57 369.84,171.37 370.22,171.35 370.60,170.60 370.98,170.46 371.36,170.07 371.74,170.70 372.12,170.39 372.50,169.54 372.88,169.23 373.26,169.25 373.65,168.93 374.03,169.32 374.41,169.31 374.79,168.87 375.17,168.49 375.55,168.62 375.93,168.53 376.31,168.24 376.69,167.87 377.08,168.21 377.46,167.68 377.84,168.18 378.22,168.21 378.60,168.16 378.98,168.47 379.36,168.35 379.74,167.93 380.12,167.54 380.50,167.80 380.88,167.81 381.27,168.19 381.65,167.76 382.03,168.22 382.41,168.80 382.79,168.70 383.17,168.82 383.55,168.81 383.93,169.21 384.31,168.85 384.70,168.88 385.08,168.74 385.46,168.45 385.84,168.47 386.22,168.67 386.60,168.59 386.98,168.19 387.36,168.36 387.74,168.28 388.12,168.62 388.50,168.55 388.89,168.51 389.27,168.35 389.65,168.68 390.03,168.91 390.41,169.07 390.79,168.75 391.17,168.25 391.55,168.35 391.93,168.46 392.32,168.56 392.70,168.44 393.08,168.14 393.46,167.46 393.84,167.91 394.22,167.22 394.60,167.33 394.98,167.42 395.36,167.32 395.74,167.15 396.12,167.95 396.51,167.77 396.89,167.67 397.27,167.33 397.65,167.56 398.03,168.19 398.41,167.88 398.79,167.89 399.17,167.44 399.55,167.32 399.94,167.29 400.32,167.40 400.70,167.45 401.08,167.72 401.46,167.86 401.84,167.76 402.22,167.65 402.60,167.66 402.98,167.99 403.36,167.64 403.75,167.97 404.13,168.35 404.51,168.43 404.89,168.77 405.27,169.34 405.65,169.20 406.03,169.01 406.41,168.75 406.79,169.25 407.17,168.76 407.56,168.96 407.94,168.84 408.32,168.19 408.70,168.65 409.08,168.62 409.46,169.07 409.84,169.54 410.22,169.36 410.60,168.62 410.98,168.18 411.37,168.18 411.75,168.37 412.13,169.55 412.51,169.10 412.89,168.72 413.27,168.82 413.65,169.11 414.03,169.12 414.41,169.10 414.79,168.79 415.18,169.10 415.56,169.25 415.94,168.96 416.32,168.74 416.70,168.57 417.08,168.57 417.46,168.70 417.84,169.01 418.22,169.01 418.60,168.73 418.99,169.00 419.37,169.06 419.75,169.73 420.13,169.35 420.51,169.37 420.89,169.77 421.27,169.41 421.65,169.13 422.03,169.75 422.41,169.55 422.80,169.36 423.18,169.83 423.56,169.80 423.94,169.68 424.32,169.93 424.70,169.90 425.08,170.56 425.46,170.61 425.84,170.66 426.22,170.57 426.61,170.32 426.99,170.09 427.37,169.92 427.75,169.64 428.13,170.40 428.51,170.00 428.89,169.99 429.27,170.00 429.65,169.78 430.03,169.90 430.42,170.67 430.80,170.40 431.18,170.65 431.56,170.68 431.94,170.83 432.32,170.35 432.70,170.10 433.08,170.91 433.46,170.57 433.84,170.36 434.23,171.18 434.61,171.55 434.99,171.49 435.37,171.58 435.75,171.60 436.13,171.14 436.51,171.53 436.89,171.52 437.27,171.75 437.65,171.81 438.04,171.99 438.42,172.22 438.80,172.08 439.18,172.12 439.56,172.06 439.94,171.88 440.32,172.24 440.70,172.21 441.08,172.18 441.46,172.18 441.85,172.16 442.23,172.42 442.61,172.40 442.99,172.72 443.37,172.39 443.75,172.71 444.13,172.36 444.51,171.81 444.89,172.65 445.27,172.72 445.66,172.61 446.04,173.17 446.42,172.68 446.80,173.05 447.18,172.77 447.56,173.23 447.94,173.41 448.32,173.61 448.70,173.16 449.08,173.70 449.47,173.47 449.85,173.14 450.23,173.70 450.61,172.70 450.99,173.01 451.37,172.40 451.75,172.55 452.13,172.36 452.51,172.63 452.89,172.80 453.27,172.58 453.66,172.36 454.04,172.08 454.42,171.83 454.80,171.65 455.18,171.39 455.56,171.59 455.94,171.42 456.32,171.62 456.70,171.86 457.09,171.98 457.47,172.35 457.85,172.10 458.23,171.67 458.61,171.71 458.99,171.62 459.37,172.19 459.75,172.28 460.13,172.10 460.51,171.77 460.89,171.74 461.28,171.61 461.66,171.67 462.04,171.82 462.42,171.83 462.80,171.52 463.18,171.58 463.56,171.93 463.94,172.22 464.32,172.88 464.71,172.96 465.09,172.75 465.47,173.22 465.85,172.92 466.23,173.17 466.61,172.94 466.99,172.88 467.37,172.88 467.75,172.69 468.13,172.58 468.51,172.33 468.90,172.85 469.28,173.18 469.66,172.91 470.04,172.77 470.42,172.49 470.80,172.71 471.18,172.15 471.56,171.83 471.94,171.79 472.33,172.30 472.71,172.76 473.09,172.57 473.47,172.50 473.85,172.87 474.23,173.36 474.61,173.94 474.99,174.06 475.37,173.96 475.75,174.01 476.14,174.01 476.52,173.86 476.90,173.86 477.28,173.57 477.66,173.51 478.04,173.41 478.42,173.22 478.80,173.54 479.18,173.56 479.56,173.82 479.95,173.52 480.33,173.31 480.71,173.78 481.09,173.33 481.47,173.45 481.85,173.53 482.23,173.87 482.61,174.09 482.99,173.37 483.37,173.79 483.75,173.52 484.14,173.21 484.52,173.55 484.90,173.44 485.28,173.17 485.66,173.36 486.04,173.66 486.42,173.08 486.80,173.11 487.18,172.76 487.57,173.06 487.95,173.36 488.33,173.87 488.71,173.79 489.09,174.13 489.47,174.05 489.85,153.74 490.23,77.87 490.61,74.22 490.99,70.56 491.38,68.84 491.76,71.63 492.14,74.41 492.52,77.20 492.90,79.99 493.28,82.78 493.66,85.57 494.04,88.36 494.42,91.15 494.80,93.93 495.19,96.72 495.57,99.51 495.95,102.30 496.33,105.09 496.71,107.88 497.09,110.67 497.47,113.45 497.85,116.28 498.23,119.16 498.61,122.03 499.00,124.90 499.38,127.77 499.76,130.65 500.14,133.52 500.52,136.39 500.90,139.26 501.28,142.14 501.66,145.01 502.04,147.88 502.42,149.55 502.81,151.16 503.19,152.77 503.57,154.38 503.95,155.99 504.33,157.60 504.71,159.21 505.09,160.82 505.47,162.43 505.85,163.60 506.23,164.33 506.62,165.06 507.00,165.79 507.38,166.52 507.76,167.25 508.14,167.99 508.52,168.72 508.90,169.45 509.28,170.18 509.66,170.91 510.04,171.28 510.43,171.66 510.81,172.03 511.19,172.40 511.57,172.77 511.95,173.15 512.33,172.64 512.71,172.87 513.09,173.68 513.47,174.33 513.85,174.51 514.24,175.28 514.62,175.36 515.00,175.70 515.38,176.62 515.76,176.22 516.14,176.67 516.52,176.81 516.90,177.11 517.28,176.69 517.66,177.16 518.05,177.45 518.43,177.45 518.81,177.66 519.19,177.52 519.57,177.59 519.95,177.74 520.33,178.18 520.71,177.88 521.09,177.58 521.47,177.30 521.86,177.11 522.24,176.68 522.62,176.19 523.00,175.67 523.38,175.93 523.76,176.00 524.14,175.70 524.52,175.82 524.90,175.75 525.28,175.99 525.66,176.38 526.05,176.16 526.43,175.79 526.81,175.66 527.19,175.84 527.57,176.05 527.95,175.91 528.33,175.86 528.71,176.37 529.09,176.63 529.48,176.71 529.86,176.35 530.24,176.17 530.62,176.38 531.00,176.49 531.38,176.57 531.76,176.61 532.14,176.40 532.52,176.11 532.90,176.95 533.29,176.64 533.67,176.18 534.05,175.87 534.43,175.61 534.81,175.41 535.19,175.84 535.57,175.98 535.95,176.63 536.33,176.05 536.71,176.56 537.10,175.94 537.48,176.20 537.86,176.06 538.24,175.76 538.62,175.68 539.00,175.98" fill="none" stroke="#148614" stroke-width="1.45" stroke-linejoin="round"/>
<text x="306.52" y="31.40" font-size="14.45" style="font-weight:bold" fill="#000" stroke="#000" stroke-width="0.3" >Lys</text>
<text x="297.88" y="48.70" font-size="14.89" style="font-weight:bold" fill="#000" stroke="#000" stroke-width="0.3" >20mM</text>
<text x="351.39" y="13.40" font-size="14.96" style="font-weight:bold" fill="#000" stroke="#000" stroke-width="0.3" >Lys</text>
<text x="342.77" y="30.00" font-size="15.00" style="font-weight:bold" fill="#000" stroke="#000" stroke-width="0.3" >40mM</text>
<text x="400.82" y="33.00" font-size="14.45" style="font-weight:bold" fill="#000" stroke="#000" stroke-width="0.3" >Lys</text>
<text x="391.63" y="50.30" font-size="15.09" style="font-weight:bold" fill="#000" stroke="#000" stroke-width="0.3" >60mM</text>
<text x="453.71" y="20.40" font-size="14.77" style="font-weight:bold" fill="#000" stroke="#000" stroke-width="0.3" >Carbachol</text>
<line x1="327.10" y1="58.80" x2="327.10" y2="147.00" stroke="#000" stroke-width="3.6" />
<path d="M321.90,146.00 L332.30,146.00 L327.10,158.40 Z" fill="#000" />
<line x1="359.60" y1="41.90" x2="359.60" y2="147.00" stroke="#000" stroke-width="3.6" />
<path d="M354.40,146.00 L364.80,146.00 L359.60,158.40 Z" fill="#000" />
<line x1="407.60" y1="59.20" x2="407.60" y2="147.00" stroke="#000" stroke-width="3.6" />
<path d="M402.40,146.00 L412.80,146.00 L407.60,158.40 Z" fill="#000" />
<line x1="490.00" y1="24.10" x2="490.00" y2="28.30" stroke="#000" stroke-width="2.0" />
<path d="M485.00,27.30 L495.00,27.30 L490.00,40.10 Z" fill="#000" />
<text x="-0.20" y="304.01" font-size="38.5" style="font-weight:bold" fill="#231f20">b</text>
<line x1="58.75" y1="307.70" x2="58.75" y2="475.40" stroke="#000" stroke-width="2.2" />
<line x1="57.65" y1="474.30" x2="306.88" y2="474.30" stroke="#000" stroke-width="2.2" />
<line x1="51.25" y1="308.80" x2="58.75" y2="308.80" stroke="#000" stroke-width="2.2" />
<text x="31.14" y="313.03" font-size="12.30" style="font-weight:bold" fill="#000" stroke="#000" stroke-width="0.3" >1.1</text>
<line x1="51.25" y1="345.65" x2="58.75" y2="345.65" stroke="#000" stroke-width="2.2" />
<text x="31.29" y="349.88" font-size="12.30" style="font-weight:bold" fill="#000" stroke="#000" stroke-width="0.3" >1.0</text>
<line x1="51.25" y1="382.50" x2="58.75" y2="382.50" stroke="#000" stroke-width="2.2" />
<text x="31.23" y="386.73" font-size="12.30" style="font-weight:bold" fill="#000" stroke="#000" stroke-width="0.3" >0.9</text>
<line x1="51.25" y1="419.35" x2="58.75" y2="419.35" stroke="#000" stroke-width="2.2" />
<text x="31.17" y="423.58" font-size="12.30" style="font-weight:bold" fill="#000" stroke="#000" stroke-width="0.3" >0.8</text>
<line x1="51.25" y1="456.20" x2="58.75" y2="456.20" stroke="#000" stroke-width="2.2" />
<text x="31.33" y="460.43" font-size="12.30" style="font-weight:bold" fill="#000" stroke="#000" stroke-width="0.3" >0.7</text>
<line x1="71.51" y1="474.30" x2="71.51" y2="478.30" stroke="#000" stroke-width="2.2" />
<line x1="97.54" y1="474.30" x2="97.54" y2="481.70" stroke="#000" stroke-width="2.2" />
<text x="94.07" y="495.93" font-size="12.30" style="font-weight:bold" fill="#000" stroke="#000" stroke-width="0.3" >4</text>
<line x1="123.57" y1="474.30" x2="123.57" y2="478.30" stroke="#000" stroke-width="2.2" />
<line x1="149.60" y1="474.30" x2="149.60" y2="481.70" stroke="#000" stroke-width="2.2" />
<text x="146.17" y="495.93" font-size="12.30" style="font-weight:bold" fill="#000" stroke="#000" stroke-width="0.3" >6</text>
<line x1="175.63" y1="474.30" x2="175.63" y2="478.30" stroke="#000" stroke-width="2.2" />
<line x1="201.66" y1="474.30" x2="201.66" y2="481.70" stroke="#000" stroke-width="2.2" />
<text x="198.23" y="495.93" font-size="12.30" style="font-weight:bold" fill="#000" stroke="#000" stroke-width="0.3" >8</text>
<line x1="227.69" y1="474.30" x2="227.69" y2="478.30" stroke="#000" stroke-width="2.2" />
<line x1="253.72" y1="474.30" x2="253.72" y2="481.70" stroke="#000" stroke-width="2.2" />
<text x="246.76" y="495.93" font-size="12.30" style="font-weight:bold" fill="#000" stroke="#000" stroke-width="0.3" >10</text>
<line x1="279.75" y1="474.30" x2="279.75" y2="478.30" stroke="#000" stroke-width="2.2" />
<line x1="305.78" y1="474.30" x2="305.78" y2="481.70" stroke="#000" stroke-width="2.2" />
<text x="298.82" y="495.99" font-size="12.30" style="font-weight:bold" fill="#000" stroke="#000" stroke-width="0.3" >12</text>
<text x="148.45" y="516.30" font-size="13.50" style="font-weight:bold" fill="#000" stroke="#000" stroke-width="0.3" >Time (min)</text>
<text stroke="#000" stroke-width="0.3" transform="translate(24.02,462.98) rotate(-90)" font-size="13.60" style="font-weight:bold" fill="#000">ΔΨm (norm. to FCCP)</text>
<text x="118.21" y="296.70" font-size="15.80" style="font-weight:bold" fill="#000" stroke="#000" stroke-width="0.3" >15 min treatment</text>
<text x="142.09" y="351.11" font-size="13.70" style="font-style:italic" fill="#000" >FCCP</text>
<line x1="160.80" y1="354.00" x2="160.80" y2="386.70" stroke="#000" stroke-width="2.2" />
<path d="M156.20,385.70 L165.40,385.70 L160.80,397.30 Z" fill="#000" />
<line x1="58.49" y1="411.20" x2="58.49" y2="408.60" stroke="#000" stroke-width="1.6" />
<line x1="58.49" y1="411.20" x2="58.49" y2="413.80" stroke="#000" stroke-width="1.4" />
<line x1="69.34" y1="412.80" x2="69.34" y2="410.20" stroke="#000" stroke-width="1.6" />
<line x1="69.34" y1="412.80" x2="69.34" y2="415.40" stroke="#000" stroke-width="1.4" />
<line x1="80.19" y1="414.50" x2="80.19" y2="411.90" stroke="#000" stroke-width="1.6" />
<line x1="80.19" y1="414.50" x2="80.19" y2="417.10" stroke="#000" stroke-width="1.4" />
<line x1="91.03" y1="416.80" x2="91.03" y2="414.20" stroke="#000" stroke-width="1.6" />
<line x1="91.03" y1="416.80" x2="91.03" y2="419.40" stroke="#000" stroke-width="1.4" />
<line x1="101.88" y1="417.70" x2="101.88" y2="415.10" stroke="#000" stroke-width="1.6" />
<line x1="101.88" y1="417.70" x2="101.88" y2="420.30" stroke="#000" stroke-width="1.4" />
<line x1="112.72" y1="421.20" x2="112.72" y2="418.60" stroke="#000" stroke-width="1.6" />
<line x1="112.72" y1="421.20" x2="112.72" y2="423.80" stroke="#000" stroke-width="1.4" />
<line x1="123.57" y1="422.00" x2="123.57" y2="419.40" stroke="#000" stroke-width="1.6" />
<line x1="123.57" y1="422.00" x2="123.57" y2="424.60" stroke="#000" stroke-width="1.4" />
<line x1="134.42" y1="424.30" x2="134.42" y2="421.70" stroke="#000" stroke-width="1.6" />
<line x1="134.42" y1="424.30" x2="134.42" y2="426.90" stroke="#000" stroke-width="1.4" />
<line x1="145.26" y1="425.20" x2="145.26" y2="422.60" stroke="#000" stroke-width="1.6" />
<line x1="145.26" y1="425.20" x2="145.26" y2="427.80" stroke="#000" stroke-width="1.4" />
<line x1="156.11" y1="427.70" x2="156.11" y2="425.10" stroke="#000" stroke-width="1.6" />
<line x1="156.11" y1="427.70" x2="156.11" y2="430.30" stroke="#000" stroke-width="1.4" />
<line x1="225.30" y1="333.70" x2="225.30" y2="331.10" stroke="#000" stroke-width="1.6" />
<line x1="225.30" y1="333.70" x2="225.30" y2="336.30" stroke="#000" stroke-width="1.4" />
<line x1="236.20" y1="332.00" x2="236.20" y2="329.40" stroke="#000" stroke-width="1.6" />
<line x1="236.20" y1="332.00" x2="236.20" y2="334.60" stroke="#000" stroke-width="1.4" />
<line x1="247.30" y1="332.50" x2="247.30" y2="329.90" stroke="#000" stroke-width="1.6" />
<line x1="247.30" y1="332.50" x2="247.30" y2="335.10" stroke="#000" stroke-width="1.4" />
<line x1="257.90" y1="333.70" x2="257.90" y2="331.10" stroke="#000" stroke-width="1.6" />
<line x1="257.90" y1="333.70" x2="257.90" y2="336.30" stroke="#000" stroke-width="1.4" />
<line x1="268.90" y1="334.90" x2="268.90" y2="332.30" stroke="#000" stroke-width="1.6" />
<line x1="268.90" y1="334.90" x2="268.90" y2="337.50" stroke="#000" stroke-width="1.4" />
<line x1="279.50" y1="334.90" x2="279.50" y2="332.30" stroke="#000" stroke-width="1.6" />
<line x1="279.50" y1="334.90" x2="279.50" y2="337.50" stroke="#000" stroke-width="1.4" />
<line x1="290.30" y1="336.90" x2="290.30" y2="334.30" stroke="#000" stroke-width="1.6" />
<line x1="290.30" y1="336.90" x2="290.30" y2="339.50" stroke="#000" stroke-width="1.4" />
<line x1="301.20" y1="339.30" x2="301.20" y2="336.70" stroke="#000" stroke-width="1.6" />
<line x1="301.20" y1="339.30" x2="301.20" y2="341.90" stroke="#000" stroke-width="1.4" />
<polyline points="58.49,411.20 69.34,412.80 80.19,414.50 91.03,416.80 101.88,417.70 112.72,421.20 123.57,422.00 134.42,424.30 145.26,425.20 156.11,427.70 225.30,333.70 236.20,332.00 247.30,332.50 257.90,333.70 268.90,334.90 279.50,334.90 290.30,336.90 301.20,339.30 306.50,340.38" fill="none" stroke="#000" stroke-width="1.6"  stroke-linejoin="round"/>
<path d="M55.84,409.21 L61.14,409.21 L58.49,413.85 Z" fill="#000" />
<path d="M66.69,410.81 L71.99,410.81 L69.34,415.45 Z" fill="#000" />
<path d="M77.54,412.51 L82.84,412.51 L80.19,417.15 Z" fill="#000" />
<path d="M88.38,414.81 L93.68,414.81 L91.03,419.45 Z" fill="#000" />
<path d="M99.23,415.71 L104.53,415.71 L101.88,420.35 Z" fill="#000" />
<path d="M110.07,419.21 L115.37,419.21 L112.72,423.85 Z" fill="#000" />
<path d="M120.92,420.01 L126.22,420.01 L123.57,424.65 Z" fill="#000" />
<path d="M131.77,422.31 L137.07,422.31 L134.42,426.95 Z" fill="#000" />
<path d="M142.61,423.21 L147.91,423.21 L145.26,427.85 Z" fill="#000" />
<path d="M153.46,425.71 L158.76,425.71 L156.11,430.35 Z" fill="#000" />
<path d="M222.65,331.71 L227.95,331.71 L225.30,336.35 Z" fill="#000" />
<path d="M233.55,330.01 L238.85,330.01 L236.20,334.65 Z" fill="#000" />
<path d="M244.65,330.51 L249.95,330.51 L247.30,335.15 Z" fill="#000" />
<path d="M255.25,331.71 L260.55,331.71 L257.90,336.35 Z" fill="#000" />
<path d="M266.25,332.91 L271.55,332.91 L268.90,337.55 Z" fill="#000" />
<path d="M276.85,332.91 L282.15,332.91 L279.50,337.55 Z" fill="#000" />
<path d="M287.65,334.91 L292.95,334.91 L290.30,339.55 Z" fill="#000" />
<path d="M298.55,337.31 L303.85,337.31 L301.20,341.95 Z" fill="#000" />
<line x1="58.49" y1="436.90" x2="58.49" y2="434.40" stroke="#808080" stroke-width="1.6" />
<line x1="69.34" y1="439.20" x2="69.34" y2="436.70" stroke="#808080" stroke-width="1.6" />
<line x1="80.19" y1="440.10" x2="80.19" y2="437.60" stroke="#808080" stroke-width="1.6" />
<line x1="91.03" y1="442.20" x2="91.03" y2="439.70" stroke="#808080" stroke-width="1.6" />
<line x1="101.88" y1="444.50" x2="101.88" y2="442.00" stroke="#808080" stroke-width="1.6" />
<line x1="112.72" y1="444.50" x2="112.72" y2="442.00" stroke="#808080" stroke-width="1.6" />
<line x1="123.57" y1="446.90" x2="123.57" y2="444.40" stroke="#808080" stroke-width="1.6" />
<line x1="134.42" y1="449.20" x2="134.42" y2="446.70" stroke="#808080" stroke-width="1.6" />
<line x1="145.26" y1="449.60" x2="145.26" y2="447.10" stroke="#808080" stroke-width="1.6" />
<line x1="156.11" y1="450.10" x2="156.11" y2="447.60" stroke="#808080" stroke-width="1.6" />
<polyline points="58.49,436.90 69.34,439.20 80.19,440.10 91.03,442.20 101.88,444.50 112.72,444.50 123.57,446.90 134.42,449.20 145.26,449.60 156.11,450.10 225.30,335.70 236.20,335.50 247.30,335.50 257.90,336.00 268.90,337.50 279.50,338.00 290.30,339.00 301.20,340.00 306.50,340.45" fill="none" stroke="#808080" stroke-width="1.3" stroke-dasharray="1.3 2.6" stroke-linejoin="round"/>
<path d="M58.49,434.20 L60.79,439.19 L56.19,439.19 Z" fill="#808080" />
<path d="M69.34,436.50 L71.64,441.50 L67.04,441.50 Z" fill="#808080" />
<path d="M80.19,437.40 L82.49,442.40 L77.89,442.40 Z" fill="#808080" />
<path d="M91.03,439.50 L93.33,444.50 L88.73,444.50 Z" fill="#808080" />
<path d="M101.88,441.80 L104.18,446.80 L99.58,446.80 Z" fill="#808080" />
<path d="M112.72,441.80 L115.02,446.80 L110.42,446.80 Z" fill="#808080" />
<path d="M123.57,444.20 L125.87,449.19 L121.27,449.19 Z" fill="#808080" />
<path d="M134.42,446.50 L136.72,451.50 L132.12,451.50 Z" fill="#808080" />
<path d="M145.26,446.90 L147.56,451.90 L142.96,451.90 Z" fill="#808080" />
<path d="M156.11,447.40 L158.41,452.40 L153.81,452.40 Z" fill="#808080" />
<path d="M225.30,333.00 L227.60,338.00 L223.00,338.00 Z" fill="#808080" />
<path d="M236.20,332.80 L238.50,337.80 L233.90,337.80 Z" fill="#808080" />
<path d="M247.30,332.80 L249.60,337.80 L245.00,337.80 Z" fill="#808080" />
<path d="M257.90,333.30 L260.20,338.30 L255.60,338.30 Z" fill="#808080" />
<path d="M268.90,334.80 L271.20,339.80 L266.60,339.80 Z" fill="#808080" />
<path d="M279.50,335.30 L281.80,340.30 L277.20,340.30 Z" fill="#808080" />
<path d="M290.30,336.30 L292.60,341.30 L288.00,341.30 Z" fill="#808080" />
<path d="M301.20,337.30 L303.50,342.30 L298.90,342.30 Z" fill="#808080" />
<polyline points="58.49,421.20 69.34,422.90 80.19,425.20 91.03,427.30 101.88,429.60 112.72,430.80 123.57,433.10 134.42,434.80 145.26,436.40 156.11,437.50 225.30,331.60 236.20,331.60 247.30,332.40 257.90,334.00 268.90,335.70 279.50,336.50 290.30,337.70 301.20,339.60 306.50,340.46" fill="none" stroke="#5599ff" stroke-width="1.6" stroke-dasharray="4 3" stroke-linejoin="round"/>
<rect x="56.04" y="418.75" width="4.90" height="4.90" fill="#5599ff"/>
<rect x="66.89" y="420.45" width="4.90" height="4.90" fill="#5599ff"/>
<rect x="77.74" y="422.75" width="4.90" height="4.90" fill="#5599ff"/>
<rect x="88.58" y="424.85" width="4.90" height="4.90" fill="#5599ff"/>
<rect x="99.43" y="427.15" width="4.90" height="4.90" fill="#5599ff"/>
<rect x="110.27" y="428.35" width="4.90" height="4.90" fill="#5599ff"/>
<rect x="121.12" y="430.65" width="4.90" height="4.90" fill="#5599ff"/>
<rect x="131.97" y="432.35" width="4.90" height="4.90" fill="#5599ff"/>
<rect x="142.81" y="433.95" width="4.90" height="4.90" fill="#5599ff"/>
<rect x="153.66" y="435.05" width="4.90" height="4.90" fill="#5599ff"/>
<rect x="222.85" y="329.15" width="4.90" height="4.90" fill="#5599ff"/>
<rect x="233.75" y="329.15" width="4.90" height="4.90" fill="#5599ff"/>
<rect x="244.85" y="329.95" width="4.90" height="4.90" fill="#5599ff"/>
<rect x="255.45" y="331.55" width="4.90" height="4.90" fill="#5599ff"/>
<rect x="266.45" y="333.25" width="4.90" height="4.90" fill="#5599ff"/>
<rect x="277.05" y="334.05" width="4.90" height="4.90" fill="#5599ff"/>
<rect x="287.85" y="335.25" width="4.90" height="4.90" fill="#5599ff"/>
<rect x="298.75" y="337.15" width="4.90" height="4.90" fill="#5599ff"/>
<line x1="58.49" y1="453.20" x2="58.49" y2="450.70" stroke="#00c000" stroke-width="1.6" />
<line x1="69.34" y1="453.90" x2="69.34" y2="451.40" stroke="#00c000" stroke-width="1.6" />
<line x1="80.19" y1="456.70" x2="80.19" y2="454.20" stroke="#00c000" stroke-width="1.6" />
<line x1="91.03" y1="457.40" x2="91.03" y2="454.90" stroke="#00c000" stroke-width="1.6" />
<line x1="101.88" y1="459.20" x2="101.88" y2="456.70" stroke="#00c000" stroke-width="1.6" />
<line x1="112.72" y1="460.20" x2="112.72" y2="457.70" stroke="#00c000" stroke-width="1.6" />
<line x1="123.57" y1="462.30" x2="123.57" y2="459.80" stroke="#00c000" stroke-width="1.6" />
<line x1="134.42" y1="463.20" x2="134.42" y2="460.70" stroke="#00c000" stroke-width="1.6" />
<line x1="145.26" y1="465.50" x2="145.26" y2="463.00" stroke="#00c000" stroke-width="1.6" />
<line x1="156.11" y1="465.50" x2="156.11" y2="463.00" stroke="#00c000" stroke-width="1.6" />
<polyline points="58.49,453.20 69.34,453.90 80.19,456.70 91.03,457.40 101.88,459.20 112.72,460.20 123.57,462.30 134.42,463.20 145.26,465.50 156.11,465.50 225.30,339.60 236.20,338.10 247.30,339.30 257.90,338.50 268.90,341.20 279.50,340.60 290.30,342.20 301.20,343.30 306.50,343.80" fill="none" stroke="#00c000" stroke-width="1.6"  stroke-linejoin="round"/>
<circle cx="58.49" cy="453.20" r="2.7" fill="#00c000" stroke="none" stroke-width="0"/>
<circle cx="69.34" cy="453.90" r="2.7" fill="#00c000" stroke="none" stroke-width="0"/>
<circle cx="80.19" cy="456.70" r="2.7" fill="#00c000" stroke="none" stroke-width="0"/>
<circle cx="91.03" cy="457.40" r="2.7" fill="#00c000" stroke="none" stroke-width="0"/>
<circle cx="101.88" cy="459.20" r="2.7" fill="#00c000" stroke="none" stroke-width="0"/>
<circle cx="112.72" cy="460.20" r="2.7" fill="#00c000" stroke="none" stroke-width="0"/>
<circle cx="123.57" cy="462.30" r="2.7" fill="#00c000" stroke="none" stroke-width="0"/>
<circle cx="134.42" cy="463.20" r="2.7" fill="#00c000" stroke="none" stroke-width="0"/>
<circle cx="145.26" cy="465.50" r="2.7" fill="#00c000" stroke="none" stroke-width="0"/>
<circle cx="156.11" cy="465.50" r="2.7" fill="#00c000" stroke="none" stroke-width="0"/>
<circle cx="225.30" cy="339.60" r="2.7" fill="#00c000" stroke="none" stroke-width="0"/>
<circle cx="236.20" cy="338.10" r="2.7" fill="#00c000" stroke="none" stroke-width="0"/>
<circle cx="247.30" cy="339.30" r="2.7" fill="#00c000" stroke="none" stroke-width="0"/>
<circle cx="257.90" cy="338.50" r="2.7" fill="#00c000" stroke="none" stroke-width="0"/>
<circle cx="268.90" cy="341.20" r="2.7" fill="#00c000" stroke="none" stroke-width="0"/>
<circle cx="279.50" cy="340.60" r="2.7" fill="#00c000" stroke="none" stroke-width="0"/>
<circle cx="290.30" cy="342.20" r="2.7" fill="#00c000" stroke="none" stroke-width="0"/>
<circle cx="301.20" cy="343.30" r="2.7" fill="#00c000" stroke="none" stroke-width="0"/>
<line x1="226.80" y1="401.70" x2="244.20" y2="401.70" stroke="#00c000" stroke-width="1.6" />
<circle cx="235.50" cy="401.70" r="2.7" fill="#00c000" stroke="none" stroke-width="0"/>
<text x="254.21" y="406.04" font-size="12.30" style="font-weight:bold" fill="#000" stroke="#000" stroke-width="0.3" >-L / -B</text>
<line x1="226.80" y1="418.00" x2="244.20" y2="418.00" stroke="#5599ff" stroke-width="1.6" stroke-dasharray="4 3"/>
<rect x="233.05" y="415.55" width="4.90" height="4.90" fill="#5599ff"/>
<text x="254.18" y="422.34" font-size="12.30" style="font-weight:bold" fill="#000" stroke="#000" stroke-width="0.3" >+L / -B</text>
<line x1="226.80" y1="434.40" x2="244.20" y2="434.40" stroke="#808080" stroke-width="1.3" stroke-dasharray="1.3 2.6"/>
<path d="M235.50,431.70 L237.80,436.69 L233.20,436.69 Z" fill="#808080" />
<text x="254.21" y="438.74" font-size="12.30" style="font-weight:bold" fill="#000" stroke="#000" stroke-width="0.3" >-L / +B</text>
<line x1="226.80" y1="450.40" x2="244.20" y2="450.40" stroke="#000" stroke-width="1.6" />
<path d="M232.85,448.41 L238.15,448.41 L235.50,453.05 Z" fill="#000" />
<text x="254.18" y="454.74" font-size="12.30" style="font-weight:bold" fill="#000" stroke="#000" stroke-width="0.3" >+L / +B</text>
<text x="0.91" y="563.02" font-size="38.5" style="font-weight:bold" fill="#231f20">d</text>
<line x1="58.75" y1="584.90" x2="58.75" y2="750.60" stroke="#000" stroke-width="2.2" />
<line x1="57.65" y1="749.50" x2="306.88" y2="749.50" stroke="#000" stroke-width="2.2" />
<line x1="51.25" y1="586.00" x2="58.75" y2="586.00" stroke="#000" stroke-width="2.2" />
<text x="31.14" y="590.23" font-size="12.30" style="font-weight:bold" fill="#000" stroke="#000" stroke-width="0.3" >1.1</text>
<line x1="51.25" y1="622.43" x2="58.75" y2="622.43" stroke="#000" stroke-width="2.2" />
<text x="31.29" y="626.65" font-size="12.30" style="font-weight:bold" fill="#000" stroke="#000" stroke-width="0.3" >1.0</text>
<line x1="51.25" y1="658.85" x2="58.75" y2="658.85" stroke="#000" stroke-width="2.2" />
<text x="31.23" y="663.08" font-size="12.30" style="font-weight:bold" fill="#000" stroke="#000" stroke-width="0.3" >0.9</text>
<line x1="51.25" y1="695.28" x2="58.75" y2="695.28" stroke="#000" stroke-width="2.2" />
<text x="31.17" y="699.50" font-size="12.30" style="font-weight:bold" fill="#000" stroke="#000" stroke-width="0.3" >0.8</text>
<line x1="51.25" y1="731.70" x2="58.75" y2="731.70" stroke="#000" stroke-width="2.2" />
<text x="31.33" y="735.93" font-size="12.30" style="font-weight:bold" fill="#000" stroke="#000" stroke-width="0.3" >0.7</text>
<line x1="71.51" y1="749.50" x2="71.51" y2="753.50" stroke="#000" stroke-width="2.2" />
<line x1="97.54" y1="749.50" x2="97.54" y2="756.90" stroke="#000" stroke-width="2.2" />
<text x="94.07" y="771.13" font-size="12.30" style="font-weight:bold" fill="#000" stroke="#000" stroke-width="0.3" >4</text>
<line x1="123.57" y1="749.50" x2="123.57" y2="753.50" stroke="#000" stroke-width="2.2" />
<line x1="149.60" y1="749.50" x2="149.60" y2="756.90" stroke="#000" stroke-width="2.2" />
<text x="146.17" y="771.13" font-size="12.30" style="font-weight:bold" fill="#000" stroke="#000" stroke-width="0.3" >6</text>
<line x1="175.63" y1="749.50" x2="175.63" y2="753.50" stroke="#000" stroke-width="2.2" />
<line x1="201.66" y1="749.50" x2="201.66" y2="756.90" stroke="#000" stroke-width="2.2" />
<text x="198.23" y="771.13" font-size="12.30" style="font-weight:bold" fill="#000" stroke="#000" stroke-width="0.3" >8</text>
<line x1="227.69" y1="749.50" x2="227.69" y2="753.50" stroke="#000" stroke-width="2.2" />
<line x1="253.72" y1="749.50" x2="253.72" y2="756.90" stroke="#000" stroke-width="2.2" />
<text x="246.76" y="771.13" font-size="12.30" style="font-weight:bold" fill="#000" stroke="#000" stroke-width="0.3" >10</text>
<line x1="279.75" y1="749.50" x2="279.75" y2="753.50" stroke="#000" stroke-width="2.2" />
<line x1="305.78" y1="749.50" x2="305.78" y2="756.90" stroke="#000" stroke-width="2.2" />
<text x="298.82" y="771.19" font-size="12.30" style="font-weight:bold" fill="#000" stroke="#000" stroke-width="0.3" >12</text>
<text x="148.45" y="791.50" font-size="13.50" style="font-weight:bold" fill="#000" stroke="#000" stroke-width="0.3" >Time (min)</text>
<text stroke="#000" stroke-width="0.3" transform="translate(24.02,738.18) rotate(-90)" font-size="13.60" style="font-weight:bold" fill="#000">ΔΨm (norm. to FCCP)</text>
<text x="118.54" y="574.40" font-size="15.80" style="font-weight:bold" fill="#000" stroke="#000" stroke-width="0.3" >30 min treatment</text>
<text x="142.09" y="626.91" font-size="13.70" style="font-style:italic" fill="#000" >FCCP</text>
<line x1="160.80" y1="629.80" x2="160.80" y2="662.50" stroke="#000" stroke-width="2.2" />
<path d="M156.20,661.50 L165.40,661.50 L160.80,673.10 Z" fill="#000" />
<line x1="225.30" y1="613.40" x2="225.30" y2="610.90" stroke="#000" stroke-width="1.6" />
<line x1="236.20" y1="613.00" x2="236.20" y2="610.50" stroke="#000" stroke-width="1.6" />
<line x1="247.30" y1="613.30" x2="247.30" y2="610.80" stroke="#000" stroke-width="1.6" />
<line x1="257.90" y1="614.60" x2="257.90" y2="612.10" stroke="#000" stroke-width="1.6" />
<line x1="268.90" y1="615.30" x2="268.90" y2="612.80" stroke="#000" stroke-width="1.6" />
<line x1="279.50" y1="615.60" x2="279.50" y2="613.10" stroke="#000" stroke-width="1.6" />
<line x1="290.30" y1="616.10" x2="290.30" y2="613.60" stroke="#000" stroke-width="1.6" />
<line x1="301.20" y1="616.50" x2="301.20" y2="614.00" stroke="#000" stroke-width="1.6" />
<polyline points="58.49,712.40 69.34,712.40 80.19,715.00 91.03,715.90 101.88,716.80 112.72,717.70 123.57,718.90 134.42,719.90 145.26,721.20 156.11,721.70 225.30,613.40 236.20,613.00 247.30,613.30 257.90,614.60 268.90,615.30 279.50,615.60 290.30,616.10 301.20,616.50 306.50,616.68" fill="none" stroke="#000" stroke-width="1.6"  stroke-linejoin="round"/>
<path d="M55.84,710.41 L61.14,710.41 L58.49,715.05 Z" fill="#000" />
<path d="M66.69,710.41 L71.99,710.41 L69.34,715.05 Z" fill="#000" />
<path d="M77.54,713.01 L82.84,713.01 L80.19,717.65 Z" fill="#000" />
<path d="M88.38,713.91 L93.68,713.91 L91.03,718.55 Z" fill="#000" />
<path d="M99.23,714.81 L104.53,714.81 L101.88,719.45 Z" fill="#000" />
<path d="M110.07,715.71 L115.37,715.71 L112.72,720.35 Z" fill="#000" />
<path d="M120.92,716.91 L126.22,716.91 L123.57,721.55 Z" fill="#000" />
<path d="M131.77,717.91 L137.07,717.91 L134.42,722.55 Z" fill="#000" />
<path d="M142.61,719.21 L147.91,719.21 L145.26,723.85 Z" fill="#000" />
<path d="M153.46,719.71 L158.76,719.71 L156.11,724.35 Z" fill="#000" />
<path d="M222.65,611.41 L227.95,611.41 L225.30,616.05 Z" fill="#000" />
<path d="M233.55,611.01 L238.85,611.01 L236.20,615.65 Z" fill="#000" />
<path d="M244.65,611.31 L249.95,611.31 L247.30,615.95 Z" fill="#000" />
<path d="M255.25,612.61 L260.55,612.61 L257.90,617.25 Z" fill="#000" />
<path d="M266.25,613.31 L271.55,613.31 L268.90,617.95 Z" fill="#000" />
<path d="M276.85,613.61 L282.15,613.61 L279.50,618.25 Z" fill="#000" />
<path d="M287.65,614.11 L292.95,614.11 L290.30,618.75 Z" fill="#000" />
<path d="M298.55,614.51 L303.85,614.51 L301.20,619.15 Z" fill="#000" />
<polyline points="58.49,714.20 69.34,715.00 80.19,716.50 91.03,717.50 101.88,718.50 112.72,719.50 123.57,720.50 134.42,721.50 145.26,722.50 156.11,723.50 225.30,613.50 236.20,613.50 247.30,614.00 257.90,615.00 268.90,616.00 279.50,616.50 290.30,617.00 301.20,617.50 306.50,617.73" fill="none" stroke="#808080" stroke-width="1.3" stroke-dasharray="1.3 2.6" stroke-linejoin="round"/>
<path d="M58.49,711.50 L60.79,716.50 L56.19,716.50 Z" fill="#808080" />
<path d="M69.34,712.30 L71.64,717.29 L67.04,717.29 Z" fill="#808080" />
<path d="M80.19,713.80 L82.49,718.79 L77.89,718.79 Z" fill="#808080" />
<path d="M91.03,714.80 L93.33,719.79 L88.73,719.79 Z" fill="#808080" />
<path d="M101.88,715.80 L104.18,720.79 L99.58,720.79 Z" fill="#808080" />
<path d="M112.72,716.80 L115.02,721.79 L110.42,721.79 Z" fill="#808080" />
<path d="M123.57,717.80 L125.87,722.79 L121.27,722.79 Z" fill="#808080" />
<path d="M134.42,718.80 L136.72,723.79 L132.12,723.79 Z" fill="#808080" />
<path d="M145.26,719.80 L147.56,724.79 L142.96,724.79 Z" fill="#808080" />
<path d="M156.11,720.80 L158.41,725.79 L153.81,725.79 Z" fill="#808080" />
<path d="M225.30,610.80 L227.60,615.79 L223.00,615.79 Z" fill="#808080" />
<path d="M236.20,610.80 L238.50,615.79 L233.90,615.79 Z" fill="#808080" />
<path d="M247.30,611.30 L249.60,616.29 L245.00,616.29 Z" fill="#808080" />
<path d="M257.90,612.30 L260.20,617.29 L255.60,617.29 Z" fill="#808080" />
<path d="M268.90,613.30 L271.20,618.29 L266.60,618.29 Z" fill="#808080" />
<path d="M279.50,613.80 L281.80,618.79 L277.20,618.79 Z" fill="#808080" />
<path d="M290.30,614.30 L292.60,619.29 L288.00,619.29 Z" fill="#808080" />
<path d="M301.20,614.80 L303.50,619.79 L298.90,619.79 Z" fill="#808080" />
<line x1="58.49" y1="708.90" x2="58.49" y2="701.90" stroke="#5599ff" stroke-width="1.6" />
<line x1="69.34" y1="708.90" x2="69.34" y2="701.90" stroke="#5599ff" stroke-width="1.6" />
<line x1="80.19" y1="711.20" x2="80.19" y2="704.20" stroke="#5599ff" stroke-width="1.6" />
<line x1="91.03" y1="711.90" x2="91.03" y2="704.90" stroke="#5599ff" stroke-width="1.6" />
<line x1="101.88" y1="712.90" x2="101.88" y2="705.90" stroke="#5599ff" stroke-width="1.6" />
<line x1="112.72" y1="714.20" x2="112.72" y2="707.20" stroke="#5599ff" stroke-width="1.6" />
<line x1="123.57" y1="715.90" x2="123.57" y2="708.90" stroke="#5599ff" stroke-width="1.6" />
<line x1="134.42" y1="717.10" x2="134.42" y2="711.10" stroke="#5599ff" stroke-width="1.6" />
<line x1="145.26" y1="717.70" x2="145.26" y2="711.70" stroke="#5599ff" stroke-width="1.6" />
<line x1="156.11" y1="718.20" x2="156.11" y2="712.20" stroke="#5599ff" stroke-width="1.6" />
<polyline points="58.49,708.90 69.34,708.90 80.19,711.20 91.03,711.90 101.88,712.90 112.72,714.20 123.57,715.90 134.42,717.10 145.26,717.70 156.11,718.20 225.30,615.20 236.20,615.00 247.30,614.90 257.90,615.20 268.90,616.10 279.50,616.30 290.30,616.70 301.20,617.30 306.50,617.57" fill="none" stroke="#5599ff" stroke-width="1.6" stroke-dasharray="4 3" stroke-linejoin="round"/>
<rect x="56.04" y="706.45" width="4.90" height="4.90" fill="#5599ff"/>
<rect x="66.89" y="706.45" width="4.90" height="4.90" fill="#5599ff"/>
<rect x="77.74" y="708.75" width="4.90" height="4.90" fill="#5599ff"/>
<rect x="88.58" y="709.45" width="4.90" height="4.90" fill="#5599ff"/>
<rect x="99.43" y="710.45" width="4.90" height="4.90" fill="#5599ff"/>
<rect x="110.27" y="711.75" width="4.90" height="4.90" fill="#5599ff"/>
<rect x="121.12" y="713.45" width="4.90" height="4.90" fill="#5599ff"/>
<rect x="131.97" y="714.65" width="4.90" height="4.90" fill="#5599ff"/>
<rect x="142.81" y="715.25" width="4.90" height="4.90" fill="#5599ff"/>
<rect x="153.66" y="715.75" width="4.90" height="4.90" fill="#5599ff"/>
<rect x="222.85" y="612.75" width="4.90" height="4.90" fill="#5599ff"/>
<rect x="233.75" y="612.55" width="4.90" height="4.90" fill="#5599ff"/>
<rect x="244.85" y="612.45" width="4.90" height="4.90" fill="#5599ff"/>
<rect x="255.45" y="612.75" width="4.90" height="4.90" fill="#5599ff"/>
<rect x="266.45" y="613.65" width="4.90" height="4.90" fill="#5599ff"/>
<rect x="277.05" y="613.85" width="4.90" height="4.90" fill="#5599ff"/>
<rect x="287.85" y="614.25" width="4.90" height="4.90" fill="#5599ff"/>
<rect x="298.75" y="614.85" width="4.90" height="4.90" fill="#5599ff"/>
<line x1="58.49" y1="731.70" x2="58.49" y2="723.70" stroke="#00c000" stroke-width="1.6" />
<line x1="69.34" y1="733.40" x2="69.34" y2="725.40" stroke="#00c000" stroke-width="1.6" />
<line x1="80.19" y1="734.30" x2="80.19" y2="726.30" stroke="#00c000" stroke-width="1.6" />
<line x1="91.03" y1="735.20" x2="91.03" y2="728.20" stroke="#00c000" stroke-width="1.6" />
<line x1="101.88" y1="736.10" x2="101.88" y2="729.10" stroke="#00c000" stroke-width="1.6" />
<line x1="112.72" y1="736.90" x2="112.72" y2="729.90" stroke="#00c000" stroke-width="1.6" />
<line x1="123.57" y1="738.20" x2="123.57" y2="732.20" stroke="#00c000" stroke-width="1.6" />
<line x1="134.42" y1="738.70" x2="134.42" y2="732.70" stroke="#00c000" stroke-width="1.6" />
<line x1="145.26" y1="739.60" x2="145.26" y2="733.60" stroke="#00c000" stroke-width="1.6" />
<line x1="156.11" y1="741.00" x2="156.11" y2="735.00" stroke="#00c000" stroke-width="1.6" />
<polyline points="58.49,731.70 69.34,733.40 80.19,734.30 91.03,735.20 101.88,736.10 112.72,736.90 123.57,738.20 134.42,738.70 145.26,739.60 156.11,741.00 225.30,617.30 236.20,616.50 247.30,617.30 257.90,618.00 268.90,617.70 279.50,618.50 290.30,619.30 301.20,620.10 306.50,620.46" fill="none" stroke="#00c000" stroke-width="1.6"  stroke-linejoin="round"/>
<circle cx="58.49" cy="731.70" r="2.7" fill="#00c000" stroke="none" stroke-width="0"/>
<circle cx="69.34" cy="733.40" r="2.7" fill="#00c000" stroke="none" stroke-width="0"/>
<circle cx="80.19" cy="734.30" r="2.7" fill="#00c000" stroke="none" stroke-width="0"/>
<circle cx="91.03" cy="735.20" r="2.7" fill="#00c000" stroke="none" stroke-width="0"/>
<circle cx="101.88" cy="736.10" r="2.7" fill="#00c000" stroke="none" stroke-width="0"/>
<circle cx="112.72" cy="736.90" r="2.7" fill="#00c000" stroke="none" stroke-width="0"/>
<circle cx="123.57" cy="738.20" r="2.7" fill="#00c000" stroke="none" stroke-width="0"/>
<circle cx="134.42" cy="738.70" r="2.7" fill="#00c000" stroke="none" stroke-width="0"/>
<circle cx="145.26" cy="739.60" r="2.7" fill="#00c000" stroke="none" stroke-width="0"/>
<circle cx="156.11" cy="741.00" r="2.7" fill="#00c000" stroke="none" stroke-width="0"/>
<circle cx="225.30" cy="617.30" r="2.7" fill="#00c000" stroke="none" stroke-width="0"/>
<circle cx="236.20" cy="616.50" r="2.7" fill="#00c000" stroke="none" stroke-width="0"/>
<circle cx="247.30" cy="617.30" r="2.7" fill="#00c000" stroke="none" stroke-width="0"/>
<circle cx="257.90" cy="618.00" r="2.7" fill="#00c000" stroke="none" stroke-width="0"/>
<circle cx="268.90" cy="617.70" r="2.7" fill="#00c000" stroke="none" stroke-width="0"/>
<circle cx="279.50" cy="618.50" r="2.7" fill="#00c000" stroke="none" stroke-width="0"/>
<circle cx="290.30" cy="619.30" r="2.7" fill="#00c000" stroke="none" stroke-width="0"/>
<circle cx="301.20" cy="620.10" r="2.7" fill="#00c000" stroke="none" stroke-width="0"/>
<line x1="214.00" y1="681.60" x2="230.90" y2="681.60" stroke="#00c000" stroke-width="1.6" />
<circle cx="222.45" cy="681.60" r="2.7" fill="#00c000" stroke="none" stroke-width="0"/>
<text x="240.85" y="686.00" font-size="12.30" style="" fill="#000" >-L / -B</text>
<line x1="214.00" y1="697.90" x2="230.90" y2="697.90" stroke="#5599ff" stroke-width="1.6" stroke-dasharray="4 3"/>
<rect x="220.00" y="695.45" width="4.90" height="4.90" fill="#5599ff"/>
<text x="240.78" y="702.30" font-size="12.30" style="" fill="#000" >+L / -B</text>
<line x1="214.00" y1="714.00" x2="230.90" y2="714.00" stroke="#808080" stroke-width="1.3" stroke-dasharray="1.3 2.6"/>
<path d="M222.45,711.30 L224.75,716.29 L220.15,716.29 Z" fill="#808080" />
<text x="240.85" y="718.40" font-size="12.30" style="" fill="#000" >-L / +B</text>
<line x1="214.00" y1="730.20" x2="230.90" y2="730.20" stroke="#000" stroke-width="1.6" />
<path d="M219.80,728.21 L225.10,728.21 L222.45,732.85 Z" fill="#000" />
<text x="240.78" y="734.60" font-size="12.30" style="" fill="#000" >+L / +B</text>
<text x="1.63" y="855.40" font-size="38.5" style="font-weight:bold" fill="#231f20">f</text>
<line x1="58.75" y1="878.20" x2="58.75" y2="1044.10" stroke="#000" stroke-width="2.2" />
<line x1="57.65" y1="1043.00" x2="306.88" y2="1043.00" stroke="#000" stroke-width="2.2" />
<line x1="51.25" y1="879.30" x2="58.75" y2="879.30" stroke="#000" stroke-width="2.2" />
<text x="31.14" y="883.53" font-size="12.30" style="font-weight:bold" fill="#000" stroke="#000" stroke-width="0.3" >1.1</text>
<line x1="51.25" y1="915.67" x2="58.75" y2="915.67" stroke="#000" stroke-width="2.2" />
<text x="31.29" y="919.90" font-size="12.30" style="font-weight:bold" fill="#000" stroke="#000" stroke-width="0.3" >1.0</text>
<line x1="51.25" y1="952.05" x2="58.75" y2="952.05" stroke="#000" stroke-width="2.2" />
<text x="31.23" y="956.28" font-size="12.30" style="font-weight:bold" fill="#000" stroke="#000" stroke-width="0.3" >0.9</text>
<line x1="51.25" y1="988.42" x2="58.75" y2="988.42" stroke="#000" stroke-width="2.2" />
<text x="31.17" y="992.65" font-size="12.30" style="font-weight:bold" fill="#000" stroke="#000" stroke-width="0.3" >0.8</text>
<line x1="51.25" y1="1024.80" x2="58.75" y2="1024.80" stroke="#000" stroke-width="2.2" />
<text x="31.33" y="1029.03" font-size="12.30" style="font-weight:bold" fill="#000" stroke="#000" stroke-width="0.3" >0.7</text>
<line x1="71.51" y1="1043.00" x2="71.51" y2="1047.00" stroke="#000" stroke-width="2.2" />
<line x1="97.54" y1="1043.00" x2="97.54" y2="1050.40" stroke="#000" stroke-width="2.2" />
<text x="94.07" y="1064.63" font-size="12.30" style="font-weight:bold" fill="#000" stroke="#000" stroke-width="0.3" >4</text>
<line x1="123.57" y1="1043.00" x2="123.57" y2="1047.00" stroke="#000" stroke-width="2.2" />
<line x1="149.60" y1="1043.00" x2="149.60" y2="1050.40" stroke="#000" stroke-width="2.2" />
<text x="146.17" y="1064.63" font-size="12.30" style="font-weight:bold" fill="#000" stroke="#000" stroke-width="0.3" >6</text>
<line x1="175.63" y1="1043.00" x2="175.63" y2="1047.00" stroke="#000" stroke-width="2.2" />
<line x1="201.66" y1="1043.00" x2="201.66" y2="1050.40" stroke="#000" stroke-width="2.2" />
<text x="198.23" y="1064.63" font-size="12.30" style="font-weight:bold" fill="#000" stroke="#000" stroke-width="0.3" >8</text>
<line x1="227.69" y1="1043.00" x2="227.69" y2="1047.00" stroke="#000" stroke-width="2.2" />
<line x1="253.72" y1="1043.00" x2="253.72" y2="1050.40" stroke="#000" stroke-width="2.2" />
<text x="246.76" y="1064.63" font-size="12.30" style="font-weight:bold" fill="#000" stroke="#000" stroke-width="0.3" >10</text>
<line x1="279.75" y1="1043.00" x2="279.75" y2="1047.00" stroke="#000" stroke-width="2.2" />
<line x1="305.78" y1="1043.00" x2="305.78" y2="1050.40" stroke="#000" stroke-width="2.2" />
<text x="298.82" y="1064.69" font-size="12.30" style="font-weight:bold" fill="#000" stroke="#000" stroke-width="0.3" >12</text>
<text x="148.45" y="1085.00" font-size="13.50" style="font-weight:bold" fill="#000" stroke="#000" stroke-width="0.3" >Time (min)</text>
<text stroke="#000" stroke-width="0.3" transform="translate(24.02,1031.38) rotate(-90)" font-size="13.60" style="font-weight:bold" fill="#000">ΔΨm (norm. to FCCP)</text>
<text x="132.11" y="867.70" font-size="15.80" style="font-weight:bold" fill="#000" stroke="#000" stroke-width="0.3" >1 h treatment</text>
<text x="142.09" y="911.51" font-size="13.70" style="font-style:italic" fill="#000" >FCCP</text>
<line x1="160.80" y1="914.40" x2="160.80" y2="947.10" stroke="#000" stroke-width="2.2" />
<path d="M156.20,946.10 L165.40,946.10 L160.80,957.70 Z" fill="#000" />
<line x1="58.49" y1="975.90" x2="58.49" y2="999.40" stroke="#777" stroke-width="1.4" />
<line x1="69.34" y1="976.60" x2="69.34" y2="1000.10" stroke="#777" stroke-width="1.4" />
<line x1="80.19" y1="977.60" x2="80.19" y2="1001.10" stroke="#777" stroke-width="1.4" />
<line x1="91.03" y1="978.50" x2="91.03" y2="1002.00" stroke="#777" stroke-width="1.4" />
<line x1="101.88" y1="980.30" x2="101.88" y2="1003.80" stroke="#777" stroke-width="1.4" />
<line x1="112.72" y1="981.10" x2="112.72" y2="1004.60" stroke="#777" stroke-width="1.4" />
<line x1="123.57" y1="982.40" x2="123.57" y2="1005.90" stroke="#777" stroke-width="1.4" />
<line x1="134.42" y1="983.20" x2="134.42" y2="1006.70" stroke="#777" stroke-width="1.4" />
<line x1="145.26" y1="985.00" x2="145.26" y2="1008.50" stroke="#777" stroke-width="1.4" />
<line x1="156.11" y1="986.40" x2="156.11" y2="1009.90" stroke="#777" stroke-width="1.4" />
<polyline points="58.49,975.90 69.34,976.60 80.19,977.60 91.03,978.50 101.88,980.30 112.72,981.10 123.57,982.40 134.42,983.20 145.26,985.00 156.11,986.40 225.30,912.70 236.20,910.30 247.30,910.30 257.90,909.90 268.90,909.80 279.50,909.80 290.30,910.60 301.20,911.90 306.50,912.48" fill="none" stroke="#000" stroke-width="1.6"  stroke-linejoin="round"/>
<path d="M55.84,973.91 L61.14,973.91 L58.49,978.55 Z" fill="#000" />
<path d="M66.69,974.61 L71.99,974.61 L69.34,979.25 Z" fill="#000" />
<path d="M77.54,975.61 L82.84,975.61 L80.19,980.25 Z" fill="#000" />
<path d="M88.38,976.51 L93.68,976.51 L91.03,981.15 Z" fill="#000" />
<path d="M99.23,978.31 L104.53,978.31 L101.88,982.95 Z" fill="#000" />
<path d="M110.07,979.11 L115.37,979.11 L112.72,983.75 Z" fill="#000" />
<path d="M120.92,980.41 L126.22,980.41 L123.57,985.05 Z" fill="#000" />
<path d="M131.77,981.21 L137.07,981.21 L134.42,985.85 Z" fill="#000" />
<path d="M142.61,983.01 L147.91,983.01 L145.26,987.65 Z" fill="#000" />
<path d="M153.46,984.41 L158.76,984.41 L156.11,989.05 Z" fill="#000" />
<path d="M222.65,910.71 L227.95,910.71 L225.30,915.35 Z" fill="#000" />
<path d="M233.55,908.31 L238.85,908.31 L236.20,912.95 Z" fill="#000" />
<path d="M244.65,908.31 L249.95,908.31 L247.30,912.95 Z" fill="#000" />
<path d="M255.25,907.91 L260.55,907.91 L257.90,912.55 Z" fill="#000" />
<path d="M266.25,907.81 L271.55,907.81 L268.90,912.45 Z" fill="#000" />
<path d="M276.85,907.81 L282.15,907.81 L279.50,912.45 Z" fill="#000" />
<path d="M287.65,908.61 L292.95,908.61 L290.30,913.25 Z" fill="#000" />
<path d="M298.55,909.91 L303.85,909.91 L301.20,914.55 Z" fill="#000" />
<line x1="225.30" y1="909.50" x2="225.30" y2="905.50" stroke="#808080" stroke-width="1.6" />
<line x1="236.20" y1="909.00" x2="236.20" y2="907.00" stroke="#808080" stroke-width="1.6" />
<line x1="247.30" y1="909.00" x2="247.30" y2="907.00" stroke="#808080" stroke-width="1.6" />
<line x1="257.90" y1="909.50" x2="257.90" y2="907.50" stroke="#808080" stroke-width="1.6" />
<line x1="268.90" y1="910.00" x2="268.90" y2="908.00" stroke="#808080" stroke-width="1.6" />
<line x1="279.50" y1="910.50" x2="279.50" y2="908.50" stroke="#808080" stroke-width="1.6" />
<line x1="290.30" y1="911.00" x2="290.30" y2="909.00" stroke="#808080" stroke-width="1.6" />
<line x1="301.20" y1="911.50" x2="301.20" y2="909.50" stroke="#808080" stroke-width="1.6" />
<polyline points="58.49,991.00 69.34,991.80 80.19,992.70 91.03,993.50 101.88,994.40 112.72,996.20 123.57,997.00 134.42,997.90 145.26,998.80 156.11,1000.20 225.30,909.50 236.20,909.00 247.30,909.00 257.90,909.50 268.90,910.00 279.50,910.50 290.30,911.00 301.20,911.50 306.50,911.73" fill="none" stroke="#808080" stroke-width="1.3" stroke-dasharray="1.3 2.6" stroke-linejoin="round"/>
<path d="M58.49,988.30 L60.79,993.29 L56.19,993.29 Z" fill="#808080" />
<path d="M69.34,989.10 L71.64,994.09 L67.04,994.09 Z" fill="#808080" />
<path d="M80.19,990.00 L82.49,995.00 L77.89,995.00 Z" fill="#808080" />
<path d="M91.03,990.80 L93.33,995.79 L88.73,995.79 Z" fill="#808080" />
<path d="M101.88,991.70 L104.18,996.69 L99.58,996.69 Z" fill="#808080" />
<path d="M112.72,993.50 L115.02,998.50 L110.42,998.50 Z" fill="#808080" />
<path d="M123.57,994.30 L125.87,999.29 L121.27,999.29 Z" fill="#808080" />
<path d="M134.42,995.20 L136.72,1000.19 L132.12,1000.19 Z" fill="#808080" />
<path d="M145.26,996.10 L147.56,1001.09 L142.96,1001.09 Z" fill="#808080" />
<path d="M156.11,997.50 L158.41,1002.50 L153.81,1002.50 Z" fill="#808080" />
<path d="M225.30,906.80 L227.60,911.79 L223.00,911.79 Z" fill="#808080" />
<path d="M236.20,906.30 L238.50,911.29 L233.90,911.29 Z" fill="#808080" />
<path d="M247.30,906.30 L249.60,911.29 L245.00,911.29 Z" fill="#808080" />
<path d="M257.90,906.80 L260.20,911.79 L255.60,911.79 Z" fill="#808080" />
<path d="M268.90,907.30 L271.20,912.29 L266.60,912.29 Z" fill="#808080" />
<path d="M279.50,907.80 L281.80,912.79 L277.20,912.79 Z" fill="#808080" />
<path d="M290.30,908.30 L292.60,913.29 L288.00,913.29 Z" fill="#808080" />
<path d="M301.20,908.80 L303.50,913.79 L298.90,913.79 Z" fill="#808080" />
<line x1="58.49" y1="975.70" x2="58.49" y2="962.00" stroke="#5599ff" stroke-width="1.6" />
<line x1="69.34" y1="976.40" x2="69.34" y2="962.40" stroke="#5599ff" stroke-width="1.6" />
<line x1="80.19" y1="977.40" x2="80.19" y2="963.80" stroke="#5599ff" stroke-width="1.6" />
<line x1="91.03" y1="978.30" x2="91.03" y2="965.00" stroke="#5599ff" stroke-width="1.6" />
<line x1="101.88" y1="980.10" x2="101.88" y2="965.90" stroke="#5599ff" stroke-width="1.6" />
<line x1="112.72" y1="980.90" x2="112.72" y2="967.30" stroke="#5599ff" stroke-width="1.6" />
<line x1="123.57" y1="982.20" x2="123.57" y2="968.10" stroke="#5599ff" stroke-width="1.6" />
<line x1="134.42" y1="983.00" x2="134.42" y2="969.40" stroke="#5599ff" stroke-width="1.6" />
<line x1="145.26" y1="984.80" x2="145.26" y2="971.10" stroke="#5599ff" stroke-width="1.6" />
<line x1="156.11" y1="986.20" x2="156.11" y2="972.50" stroke="#5599ff" stroke-width="1.6" />
<polyline points="58.49,975.70 69.34,976.40 80.19,977.40 91.03,978.30 101.88,980.10 112.72,980.90 123.57,982.20 134.42,983.00 145.26,984.80 156.11,986.20 225.30,916.20 236.20,915.40 247.30,914.60 257.90,914.60 268.90,913.80 279.50,913.50 290.30,914.10 301.20,913.50 306.50,913.23" fill="none" stroke="#5599ff" stroke-width="1.6" stroke-dasharray="4 3" stroke-linejoin="round"/>
<rect x="56.04" y="973.25" width="4.90" height="4.90" fill="#5599ff"/>
<rect x="66.89" y="973.95" width="4.90" height="4.90" fill="#5599ff"/>
<rect x="77.74" y="974.95" width="4.90" height="4.90" fill="#5599ff"/>
<rect x="88.58" y="975.85" width="4.90" height="4.90" fill="#5599ff"/>
<rect x="99.43" y="977.65" width="4.90" height="4.90" fill="#5599ff"/>
<rect x="110.27" y="978.45" width="4.90" height="4.90" fill="#5599ff"/>
<rect x="121.12" y="979.75" width="4.90" height="4.90" fill="#5599ff"/>
<rect x="131.97" y="980.55" width="4.90" height="4.90" fill="#5599ff"/>
<rect x="142.81" y="982.35" width="4.90" height="4.90" fill="#5599ff"/>
<rect x="153.66" y="983.75" width="4.90" height="4.90" fill="#5599ff"/>
<rect x="222.85" y="913.75" width="4.90" height="4.90" fill="#5599ff"/>
<rect x="233.75" y="912.95" width="4.90" height="4.90" fill="#5599ff"/>
<rect x="244.85" y="912.15" width="4.90" height="4.90" fill="#5599ff"/>
<rect x="255.45" y="912.15" width="4.90" height="4.90" fill="#5599ff"/>
<rect x="266.45" y="911.35" width="4.90" height="4.90" fill="#5599ff"/>
<rect x="277.05" y="911.05" width="4.90" height="4.90" fill="#5599ff"/>
<rect x="287.85" y="911.65" width="4.90" height="4.90" fill="#5599ff"/>
<rect x="298.75" y="911.05" width="4.90" height="4.90" fill="#5599ff"/>
<line x1="58.49" y1="1000.20" x2="58.49" y2="986.50" stroke="#00c000" stroke-width="1.6" />
<line x1="69.34" y1="1000.60" x2="69.34" y2="986.20" stroke="#00c000" stroke-width="1.6" />
<line x1="80.19" y1="1001.40" x2="80.19" y2="987.40" stroke="#00c000" stroke-width="1.6" />
<line x1="91.03" y1="1002.70" x2="91.03" y2="989.20" stroke="#00c000" stroke-width="1.6" />
<line x1="101.88" y1="1004.10" x2="101.88" y2="990.00" stroke="#00c000" stroke-width="1.6" />
<line x1="112.72" y1="1005.30" x2="112.72" y2="990.90" stroke="#00c000" stroke-width="1.6" />
<line x1="123.57" y1="1005.80" x2="123.57" y2="992.30" stroke="#00c000" stroke-width="1.6" />
<line x1="134.42" y1="1007.20" x2="134.42" y2="993.20" stroke="#00c000" stroke-width="1.6" />
<line x1="145.26" y1="1008.40" x2="145.26" y2="993.50" stroke="#00c000" stroke-width="1.6" />
<line x1="156.11" y1="1010.70" x2="156.11" y2="995.20" stroke="#00c000" stroke-width="1.6" />
<polyline points="58.49,1000.20 69.34,1000.60 80.19,1001.40 91.03,1002.70 101.88,1004.10 112.72,1005.30 123.57,1005.80 134.42,1007.20 145.26,1008.40 156.11,1010.70 225.30,916.70 236.20,915.90 247.30,915.10 257.90,915.10 268.90,914.30 279.50,914.00 290.30,914.60 301.20,914.00 306.50,913.73" fill="none" stroke="#00c000" stroke-width="1.6"  stroke-linejoin="round"/>
<circle cx="58.49" cy="1000.20" r="2.7" fill="#00c000" stroke="none" stroke-width="0"/>
<circle cx="69.34" cy="1000.60" r="2.7" fill="#00c000" stroke="none" stroke-width="0"/>
<circle cx="80.19" cy="1001.40" r="2.7" fill="#00c000" stroke="none" stroke-width="0"/>
<circle cx="91.03" cy="1002.70" r="2.7" fill="#00c000" stroke="none" stroke-width="0"/>
<circle cx="101.88" cy="1004.10" r="2.7" fill="#00c000" stroke="none" stroke-width="0"/>
<circle cx="112.72" cy="1005.30" r="2.7" fill="#00c000" stroke="none" stroke-width="0"/>
<circle cx="123.57" cy="1005.80" r="2.7" fill="#00c000" stroke="none" stroke-width="0"/>
<circle cx="134.42" cy="1007.20" r="2.7" fill="#00c000" stroke="none" stroke-width="0"/>
<circle cx="145.26" cy="1008.40" r="2.7" fill="#00c000" stroke="none" stroke-width="0"/>
<circle cx="156.11" cy="1010.70" r="2.7" fill="#00c000" stroke="none" stroke-width="0"/>
<circle cx="225.30" cy="916.70" r="2.7" fill="#00c000" stroke="none" stroke-width="0"/>
<circle cx="236.20" cy="915.90" r="2.7" fill="#00c000" stroke="none" stroke-width="0"/>
<circle cx="247.30" cy="915.10" r="2.7" fill="#00c000" stroke="none" stroke-width="0"/>
<circle cx="257.90" cy="915.10" r="2.7" fill="#00c000" stroke="none" stroke-width="0"/>
<circle cx="268.90" cy="914.30" r="2.7" fill="#00c000" stroke="none" stroke-width="0"/>
<circle cx="279.50" cy="914.00" r="2.7" fill="#00c000" stroke="none" stroke-width="0"/>
<circle cx="290.30" cy="914.60" r="2.7" fill="#00c000" stroke="none" stroke-width="0"/>
<circle cx="301.20" cy="914.00" r="2.7" fill="#00c000" stroke="none" stroke-width="0"/>
<line x1="212.80" y1="974.30" x2="230.40" y2="974.30" stroke="#00c000" stroke-width="1.6" />
<circle cx="221.60" cy="974.30" r="2.7" fill="#00c000" stroke="none" stroke-width="0"/>
<text x="239.15" y="978.70" font-size="12.30" style="" fill="#000" >-L / -B</text>
<line x1="212.80" y1="990.40" x2="230.40" y2="990.40" stroke="#5599ff" stroke-width="1.6" stroke-dasharray="4 3"/>
<rect x="219.15" y="987.95" width="4.90" height="4.90" fill="#5599ff"/>
<text x="239.08" y="994.80" font-size="12.30" style="" fill="#000" >+L / -B</text>
<line x1="212.80" y1="1006.40" x2="230.40" y2="1006.40" stroke="#808080" stroke-width="1.3" stroke-dasharray="1.3 2.6"/>
<path d="M221.60,1003.70 L223.90,1008.69 L219.30,1008.69 Z" fill="#808080" />
<text x="239.15" y="1010.80" font-size="12.30" style="" fill="#000" >-L / +B</text>
<line x1="212.80" y1="1022.50" x2="230.40" y2="1022.50" stroke="#000" stroke-width="1.6" />
<path d="M218.95,1020.51 L224.25,1020.51 L221.60,1025.15 Z" fill="#000" />
<text x="239.08" y="1026.90" font-size="12.30" style="" fill="#000" >+L / +B</text>
<text x="0.00" y="1136.50" font-size="38.5" style="font-weight:bold" fill="#231f20">h</text>
<line x1="58.75" y1="1144.90" x2="58.75" y2="1310.30" stroke="#000" stroke-width="2.2" />
<line x1="57.65" y1="1309.20" x2="306.88" y2="1309.20" stroke="#000" stroke-width="2.2" />
<line x1="51.25" y1="1146.00" x2="58.75" y2="1146.00" stroke="#000" stroke-width="2.2" />
<text x="31.14" y="1150.23" font-size="12.30" style="font-weight:bold" fill="#000" stroke="#000" stroke-width="0.3" >1.1</text>
<line x1="51.25" y1="1182.30" x2="58.75" y2="1182.30" stroke="#000" stroke-width="2.2" />
<text x="31.29" y="1186.53" font-size="12.30" style="font-weight:bold" fill="#000" stroke="#000" stroke-width="0.3" >1.0</text>
<line x1="51.25" y1="1218.60" x2="58.75" y2="1218.60" stroke="#000" stroke-width="2.2" />
<text x="31.23" y="1222.83" font-size="12.30" style="font-weight:bold" fill="#000" stroke="#000" stroke-width="0.3" >0.9</text>
<line x1="51.25" y1="1254.90" x2="58.75" y2="1254.90" stroke="#000" stroke-width="2.2" />
<text x="31.17" y="1259.13" font-size="12.30" style="font-weight:bold" fill="#000" stroke="#000" stroke-width="0.3" >0.8</text>
<line x1="51.25" y1="1291.20" x2="58.75" y2="1291.20" stroke="#000" stroke-width="2.2" />
<text x="31.33" y="1295.43" font-size="12.30" style="font-weight:bold" fill="#000" stroke="#000" stroke-width="0.3" >0.7</text>
<line x1="71.51" y1="1309.20" x2="71.51" y2="1313.20" stroke="#000" stroke-width="2.2" />
<line x1="97.54" y1="1309.20" x2="97.54" y2="1316.60" stroke="#000" stroke-width="2.2" />
<text x="94.07" y="1330.83" font-size="12.30" style="font-weight:bold" fill="#000" stroke="#000" stroke-width="0.3" >4</text>
<line x1="123.57" y1="1309.20" x2="123.57" y2="1313.20" stroke="#000" stroke-width="2.2" />
<line x1="149.60" y1="1309.20" x2="149.60" y2="1316.60" stroke="#000" stroke-width="2.2" />
<text x="146.17" y="1330.83" font-size="12.30" style="font-weight:bold" fill="#000" stroke="#000" stroke-width="0.3" >6</text>
<line x1="175.63" y1="1309.20" x2="175.63" y2="1313.20" stroke="#000" stroke-width="2.2" />
<line x1="201.66" y1="1309.20" x2="201.66" y2="1316.60" stroke="#000" stroke-width="2.2" />
<text x="198.23" y="1330.83" font-size="12.30" style="font-weight:bold" fill="#000" stroke="#000" stroke-width="0.3" >8</text>
<line x1="227.69" y1="1309.20" x2="227.69" y2="1313.20" stroke="#000" stroke-width="2.2" />
<line x1="253.72" y1="1309.20" x2="253.72" y2="1316.60" stroke="#000" stroke-width="2.2" />
<text x="246.76" y="1330.83" font-size="12.30" style="font-weight:bold" fill="#000" stroke="#000" stroke-width="0.3" >10</text>
<line x1="279.75" y1="1309.20" x2="279.75" y2="1313.20" stroke="#000" stroke-width="2.2" />
<line x1="305.78" y1="1309.20" x2="305.78" y2="1316.60" stroke="#000" stroke-width="2.2" />
<text x="298.82" y="1330.89" font-size="12.30" style="font-weight:bold" fill="#000" stroke="#000" stroke-width="0.3" >12</text>
<text x="148.45" y="1351.20" font-size="13.50" style="font-weight:bold" fill="#000" stroke="#000" stroke-width="0.3" >Time (min)</text>
<text stroke="#000" stroke-width="0.3" transform="translate(24.02,1298.18) rotate(-90)" font-size="13.60" style="font-weight:bold" fill="#000">ΔΨm (norm. to FCCP)</text>
<text x="131.75" y="1137.20" font-size="15.80" style="font-weight:bold" fill="#000" stroke="#000" stroke-width="0.3" >2 h treatment</text>
<text x="142.09" y="1177.11" font-size="13.70" style="font-style:italic" fill="#000" >FCCP</text>
<line x1="160.80" y1="1180.00" x2="160.80" y2="1212.70" stroke="#000" stroke-width="2.2" />
<path d="M156.20,1211.70 L165.40,1211.70 L160.80,1223.30 Z" fill="#000" />
<line x1="58.49" y1="1239.90" x2="58.49" y2="1237.10" stroke="#000" stroke-width="1.6" />
<line x1="58.49" y1="1239.90" x2="58.49" y2="1242.70" stroke="#000" stroke-width="1.4" />
<line x1="69.34" y1="1240.80" x2="69.34" y2="1238.00" stroke="#000" stroke-width="1.6" />
<line x1="69.34" y1="1240.80" x2="69.34" y2="1243.60" stroke="#000" stroke-width="1.4" />
<line x1="80.19" y1="1242.50" x2="80.19" y2="1239.70" stroke="#000" stroke-width="1.6" />
<line x1="80.19" y1="1242.50" x2="80.19" y2="1245.30" stroke="#000" stroke-width="1.4" />
<line x1="91.03" y1="1243.40" x2="91.03" y2="1240.60" stroke="#000" stroke-width="1.6" />
<line x1="91.03" y1="1243.40" x2="91.03" y2="1246.20" stroke="#000" stroke-width="1.4" />
<line x1="101.88" y1="1244.60" x2="101.88" y2="1241.80" stroke="#000" stroke-width="1.6" />
<line x1="101.88" y1="1244.60" x2="101.88" y2="1247.40" stroke="#000" stroke-width="1.4" />
<line x1="112.72" y1="1246.40" x2="112.72" y2="1243.60" stroke="#000" stroke-width="1.6" />
<line x1="112.72" y1="1246.40" x2="112.72" y2="1249.20" stroke="#000" stroke-width="1.4" />
<line x1="123.57" y1="1246.90" x2="123.57" y2="1244.10" stroke="#000" stroke-width="1.6" />
<line x1="123.57" y1="1246.90" x2="123.57" y2="1249.70" stroke="#000" stroke-width="1.4" />
<line x1="134.42" y1="1248.30" x2="134.42" y2="1245.50" stroke="#000" stroke-width="1.6" />
<line x1="134.42" y1="1248.30" x2="134.42" y2="1251.10" stroke="#000" stroke-width="1.4" />
<line x1="145.26" y1="1249.00" x2="145.26" y2="1246.20" stroke="#000" stroke-width="1.6" />
<line x1="145.26" y1="1249.00" x2="145.26" y2="1251.80" stroke="#000" stroke-width="1.4" />
<line x1="156.11" y1="1249.90" x2="156.11" y2="1247.10" stroke="#000" stroke-width="1.6" />
<line x1="156.11" y1="1249.90" x2="156.11" y2="1252.70" stroke="#000" stroke-width="1.4" />
<line x1="225.30" y1="1175.70" x2="225.30" y2="1173.20" stroke="#000" stroke-width="1.6" />
<line x1="236.20" y1="1175.00" x2="236.20" y2="1172.50" stroke="#000" stroke-width="1.6" />
<line x1="247.30" y1="1175.00" x2="247.30" y2="1172.50" stroke="#000" stroke-width="1.6" />
<line x1="257.90" y1="1175.50" x2="257.90" y2="1173.00" stroke="#000" stroke-width="1.6" />
<line x1="268.90" y1="1176.00" x2="268.90" y2="1173.50" stroke="#000" stroke-width="1.6" />
<line x1="279.50" y1="1176.50" x2="279.50" y2="1174.00" stroke="#000" stroke-width="1.6" />
<line x1="290.30" y1="1177.00" x2="290.30" y2="1174.50" stroke="#000" stroke-width="1.6" />
<line x1="301.20" y1="1177.00" x2="301.20" y2="1174.50" stroke="#000" stroke-width="1.6" />
<polyline points="58.49,1239.90 69.34,1240.80 80.19,1242.50 91.03,1243.40 101.88,1244.60 112.72,1246.40 123.57,1246.90 134.42,1248.30 145.26,1249.00 156.11,1249.90 225.30,1175.70 236.20,1175.00 247.30,1175.00 257.90,1175.50 268.90,1176.00 279.50,1176.50 290.30,1177.00 301.20,1177.00 306.50,1177.00" fill="none" stroke="#000" stroke-width="1.6"  stroke-linejoin="round"/>
<path d="M55.84,1237.91 L61.14,1237.91 L58.49,1242.55 Z" fill="#000" />
<path d="M66.69,1238.81 L71.99,1238.81 L69.34,1243.45 Z" fill="#000" />
<path d="M77.54,1240.51 L82.84,1240.51 L80.19,1245.15 Z" fill="#000" />
<path d="M88.38,1241.41 L93.68,1241.41 L91.03,1246.05 Z" fill="#000" />
<path d="M99.23,1242.61 L104.53,1242.61 L101.88,1247.25 Z" fill="#000" />
<path d="M110.07,1244.41 L115.37,1244.41 L112.72,1249.05 Z" fill="#000" />
<path d="M120.92,1244.91 L126.22,1244.91 L123.57,1249.55 Z" fill="#000" />
<path d="M131.77,1246.31 L137.07,1246.31 L134.42,1250.95 Z" fill="#000" />
<path d="M142.61,1247.01 L147.91,1247.01 L145.26,1251.65 Z" fill="#000" />
<path d="M153.46,1247.91 L158.76,1247.91 L156.11,1252.55 Z" fill="#000" />
<path d="M222.65,1173.71 L227.95,1173.71 L225.30,1178.35 Z" fill="#000" />
<path d="M233.55,1173.01 L238.85,1173.01 L236.20,1177.65 Z" fill="#000" />
<path d="M244.65,1173.01 L249.95,1173.01 L247.30,1177.65 Z" fill="#000" />
<path d="M255.25,1173.51 L260.55,1173.51 L257.90,1178.15 Z" fill="#000" />
<path d="M266.25,1174.01 L271.55,1174.01 L268.90,1178.65 Z" fill="#000" />
<path d="M276.85,1174.51 L282.15,1174.51 L279.50,1179.15 Z" fill="#000" />
<path d="M287.65,1175.01 L292.95,1175.01 L290.30,1179.65 Z" fill="#000" />
<path d="M298.55,1175.01 L303.85,1175.01 L301.20,1179.65 Z" fill="#000" />
<line x1="58.49" y1="1256.90" x2="58.49" y2="1248.90" stroke="#808080" stroke-width="1.6" />
<line x1="69.34" y1="1257.90" x2="69.34" y2="1249.90" stroke="#808080" stroke-width="1.6" />
<line x1="80.19" y1="1258.50" x2="80.19" y2="1250.50" stroke="#808080" stroke-width="1.6" />
<line x1="91.03" y1="1259.00" x2="91.03" y2="1251.00" stroke="#808080" stroke-width="1.6" />
<line x1="101.88" y1="1259.50" x2="101.88" y2="1251.50" stroke="#808080" stroke-width="1.6" />
<line x1="112.72" y1="1260.00" x2="112.72" y2="1252.00" stroke="#808080" stroke-width="1.6" />
<line x1="123.57" y1="1261.00" x2="123.57" y2="1253.00" stroke="#808080" stroke-width="1.6" />
<line x1="134.42" y1="1261.50" x2="134.42" y2="1253.50" stroke="#808080" stroke-width="1.6" />
<line x1="145.26" y1="1262.00" x2="145.26" y2="1254.00" stroke="#808080" stroke-width="1.6" />
<line x1="156.11" y1="1262.40" x2="156.11" y2="1254.40" stroke="#808080" stroke-width="1.6" />
<polyline points="58.49,1256.90 69.34,1257.90 80.19,1258.50 91.03,1259.00 101.88,1259.50 112.72,1260.00 123.57,1261.00 134.42,1261.50 145.26,1262.00 156.11,1262.40 225.30,1176.00 236.20,1176.00 247.30,1176.50 257.90,1177.00 268.90,1177.00 279.50,1177.50 290.30,1178.00 301.20,1178.00 306.50,1178.00" fill="none" stroke="#808080" stroke-width="1.3" stroke-dasharray="1.3 2.6" stroke-linejoin="round"/>
<path d="M58.49,1254.20 L60.79,1259.20 L56.19,1259.20 Z" fill="#808080" />
<path d="M69.34,1255.20 L71.64,1260.20 L67.04,1260.20 Z" fill="#808080" />
<path d="M80.19,1255.80 L82.49,1260.80 L77.89,1260.80 Z" fill="#808080" />
<path d="M91.03,1256.30 L93.33,1261.30 L88.73,1261.30 Z" fill="#808080" />
<path d="M101.88,1256.80 L104.18,1261.80 L99.58,1261.80 Z" fill="#808080" />
<path d="M112.72,1257.30 L115.02,1262.30 L110.42,1262.30 Z" fill="#808080" />
<path d="M123.57,1258.30 L125.87,1263.30 L121.27,1263.30 Z" fill="#808080" />
<path d="M134.42,1258.80 L136.72,1263.80 L132.12,1263.80 Z" fill="#808080" />
<path d="M145.26,1259.30 L147.56,1264.30 L142.96,1264.30 Z" fill="#808080" />
<path d="M156.11,1259.70 L158.41,1264.70 L153.81,1264.70 Z" fill="#808080" />
<path d="M225.30,1173.30 L227.60,1178.30 L223.00,1178.30 Z" fill="#808080" />
<path d="M236.20,1173.30 L238.50,1178.30 L233.90,1178.30 Z" fill="#808080" />
<path d="M247.30,1173.80 L249.60,1178.80 L245.00,1178.80 Z" fill="#808080" />
<path d="M257.90,1174.30 L260.20,1179.30 L255.60,1179.30 Z" fill="#808080" />
<path d="M268.90,1174.30 L271.20,1179.30 L266.60,1179.30 Z" fill="#808080" />
<path d="M279.50,1174.80 L281.80,1179.80 L277.20,1179.80 Z" fill="#808080" />
<path d="M290.30,1175.30 L292.60,1180.30 L288.00,1180.30 Z" fill="#808080" />
<path d="M301.20,1175.30 L303.50,1180.30 L298.90,1180.30 Z" fill="#808080" />
<line x1="58.49" y1="1234.80" x2="58.49" y2="1230.80" stroke="#5599ff" stroke-width="1.6" />
<line x1="58.49" y1="1234.80" x2="58.49" y2="1238.80" stroke="#5599ff" stroke-width="1.4" />
<line x1="69.34" y1="1236.00" x2="69.34" y2="1232.00" stroke="#5599ff" stroke-width="1.6" />
<line x1="69.34" y1="1236.00" x2="69.34" y2="1240.00" stroke="#5599ff" stroke-width="1.4" />
<line x1="80.19" y1="1237.50" x2="80.19" y2="1233.50" stroke="#5599ff" stroke-width="1.6" />
<line x1="80.19" y1="1237.50" x2="80.19" y2="1241.50" stroke="#5599ff" stroke-width="1.4" />
<line x1="91.03" y1="1237.90" x2="91.03" y2="1233.90" stroke="#5599ff" stroke-width="1.6" />
<line x1="91.03" y1="1237.90" x2="91.03" y2="1241.90" stroke="#5599ff" stroke-width="1.4" />
<line x1="101.88" y1="1239.10" x2="101.88" y2="1235.10" stroke="#5599ff" stroke-width="1.6" />
<line x1="101.88" y1="1239.10" x2="101.88" y2="1243.10" stroke="#5599ff" stroke-width="1.4" />
<line x1="112.72" y1="1239.50" x2="112.72" y2="1235.50" stroke="#5599ff" stroke-width="1.6" />
<line x1="112.72" y1="1239.50" x2="112.72" y2="1243.50" stroke="#5599ff" stroke-width="1.4" />
<line x1="123.57" y1="1239.90" x2="123.57" y2="1235.90" stroke="#5599ff" stroke-width="1.6" />
<line x1="123.57" y1="1239.90" x2="123.57" y2="1243.90" stroke="#5599ff" stroke-width="1.4" />
<line x1="134.42" y1="1241.60" x2="134.42" y2="1237.60" stroke="#5599ff" stroke-width="1.6" />
<line x1="134.42" y1="1241.60" x2="134.42" y2="1245.60" stroke="#5599ff" stroke-width="1.4" />
<line x1="145.26" y1="1241.80" x2="145.26" y2="1237.80" stroke="#5599ff" stroke-width="1.6" />
<line x1="145.26" y1="1241.80" x2="145.26" y2="1245.80" stroke="#5599ff" stroke-width="1.4" />
<line x1="156.11" y1="1242.60" x2="156.11" y2="1238.60" stroke="#5599ff" stroke-width="1.6" />
<line x1="156.11" y1="1242.60" x2="156.11" y2="1246.60" stroke="#5599ff" stroke-width="1.4" />
<polyline points="58.49,1234.80 69.34,1236.00 80.19,1237.50 91.03,1237.90 101.88,1239.10 112.72,1239.50 123.57,1239.90 134.42,1241.60 145.26,1241.80 156.11,1242.60 225.30,1176.50 236.20,1176.50 247.30,1177.00 257.90,1177.00 268.90,1177.50 279.50,1177.50 290.30,1178.00 301.20,1178.00 306.50,1178.00" fill="none" stroke="#5599ff" stroke-width="1.6" stroke-dasharray="4 3" stroke-linejoin="round"/>
<rect x="56.04" y="1232.35" width="4.90" height="4.90" fill="#5599ff"/>
<rect x="66.89" y="1233.55" width="4.90" height="4.90" fill="#5599ff"/>
<rect x="77.74" y="1235.05" width="4.90" height="4.90" fill="#5599ff"/>
<rect x="88.58" y="1235.45" width="4.90" height="4.90" fill="#5599ff"/>
<rect x="99.43" y="1236.65" width="4.90" height="4.90" fill="#5599ff"/>
<rect x="110.27" y="1237.05" width="4.90" height="4.90" fill="#5599ff"/>
<rect x="121.12" y="1237.45" width="4.90" height="4.90" fill="#5599ff"/>
<rect x="131.97" y="1239.15" width="4.90" height="4.90" fill="#5599ff"/>
<rect x="142.81" y="1239.35" width="4.90" height="4.90" fill="#5599ff"/>
<rect x="153.66" y="1240.15" width="4.90" height="4.90" fill="#5599ff"/>
<rect x="222.85" y="1174.05" width="4.90" height="4.90" fill="#5599ff"/>
<rect x="233.75" y="1174.05" width="4.90" height="4.90" fill="#5599ff"/>
<rect x="244.85" y="1174.55" width="4.90" height="4.90" fill="#5599ff"/>
<rect x="255.45" y="1174.55" width="4.90" height="4.90" fill="#5599ff"/>
<rect x="266.45" y="1175.05" width="4.90" height="4.90" fill="#5599ff"/>
<rect x="277.05" y="1175.05" width="4.90" height="4.90" fill="#5599ff"/>
<rect x="287.85" y="1175.55" width="4.90" height="4.90" fill="#5599ff"/>
<rect x="298.75" y="1175.55" width="4.90" height="4.90" fill="#5599ff"/>
<line x1="58.49" y1="1281.40" x2="58.49" y2="1277.40" stroke="#00c000" stroke-width="1.6" />
<line x1="69.34" y1="1282.40" x2="69.34" y2="1278.40" stroke="#00c000" stroke-width="1.6" />
<line x1="80.19" y1="1283.90" x2="80.19" y2="1279.90" stroke="#00c000" stroke-width="1.6" />
<line x1="91.03" y1="1284.90" x2="91.03" y2="1280.90" stroke="#00c000" stroke-width="1.6" />
<line x1="101.88" y1="1285.50" x2="101.88" y2="1281.50" stroke="#00c000" stroke-width="1.6" />
<line x1="112.72" y1="1285.90" x2="112.72" y2="1281.90" stroke="#00c000" stroke-width="1.6" />
<line x1="123.57" y1="1287.10" x2="123.57" y2="1283.10" stroke="#00c000" stroke-width="1.6" />
<line x1="134.42" y1="1287.80" x2="134.42" y2="1283.80" stroke="#00c000" stroke-width="1.6" />
<line x1="145.26" y1="1288.00" x2="145.26" y2="1284.00" stroke="#00c000" stroke-width="1.6" />
<line x1="156.11" y1="1289.50" x2="156.11" y2="1285.50" stroke="#00c000" stroke-width="1.6" />
<polyline points="58.49,1281.40 69.34,1282.40 80.19,1283.90 91.03,1284.90 101.88,1285.50 112.72,1285.90 123.57,1287.10 134.42,1287.80 145.26,1288.00 156.11,1289.50 225.30,1180.00 236.20,1179.00 247.30,1179.00 257.90,1179.50 268.90,1179.50 279.50,1179.50 290.30,1180.00 301.20,1180.00 306.50,1180.00" fill="none" stroke="#00c000" stroke-width="1.6"  stroke-linejoin="round"/>
<circle cx="58.49" cy="1281.40" r="2.7" fill="#00c000" stroke="none" stroke-width="0"/>
<circle cx="69.34" cy="1282.40" r="2.7" fill="#00c000" stroke="none" stroke-width="0"/>
<circle cx="80.19" cy="1283.90" r="2.7" fill="#00c000" stroke="none" stroke-width="0"/>
<circle cx="91.03" cy="1284.90" r="2.7" fill="#00c000" stroke="none" stroke-width="0"/>
<circle cx="101.88" cy="1285.50" r="2.7" fill="#00c000" stroke="none" stroke-width="0"/>
<circle cx="112.72" cy="1285.90" r="2.7" fill="#00c000" stroke="none" stroke-width="0"/>
<circle cx="123.57" cy="1287.10" r="2.7" fill="#00c000" stroke="none" stroke-width="0"/>
<circle cx="134.42" cy="1287.80" r="2.7" fill="#00c000" stroke="none" stroke-width="0"/>
<circle cx="145.26" cy="1288.00" r="2.7" fill="#00c000" stroke="none" stroke-width="0"/>
<circle cx="156.11" cy="1289.50" r="2.7" fill="#00c000" stroke="none" stroke-width="0"/>
<circle cx="225.30" cy="1180.00" r="2.7" fill="#00c000" stroke="none" stroke-width="0"/>
<circle cx="236.20" cy="1179.00" r="2.7" fill="#00c000" stroke="none" stroke-width="0"/>
<circle cx="247.30" cy="1179.00" r="2.7" fill="#00c000" stroke="none" stroke-width="0"/>
<circle cx="257.90" cy="1179.50" r="2.7" fill="#00c000" stroke="none" stroke-width="0"/>
<circle cx="268.90" cy="1179.50" r="2.7" fill="#00c000" stroke="none" stroke-width="0"/>
<circle cx="279.50" cy="1179.50" r="2.7" fill="#00c000" stroke="none" stroke-width="0"/>
<circle cx="290.30" cy="1180.00" r="2.7" fill="#00c000" stroke="none" stroke-width="0"/>
<circle cx="301.20" cy="1180.00" r="2.7" fill="#00c000" stroke="none" stroke-width="0"/>
<line x1="212.00" y1="1237.90" x2="229.50" y2="1237.90" stroke="#00c000" stroke-width="1.6" />
<circle cx="220.75" cy="1237.90" r="2.7" fill="#00c000" stroke="none" stroke-width="0"/>
<text x="238.55" y="1242.30" font-size="12.30" style="" fill="#000" >-L / -B</text>
<line x1="212.00" y1="1253.60" x2="229.50" y2="1253.60" stroke="#5599ff" stroke-width="1.6" stroke-dasharray="4 3"/>
<rect x="218.30" y="1251.15" width="4.90" height="4.90" fill="#5599ff"/>
<text x="238.48" y="1258.00" font-size="12.30" style="" fill="#000" >+L / -B</text>
<line x1="212.00" y1="1269.70" x2="229.50" y2="1269.70" stroke="#808080" stroke-width="1.3" stroke-dasharray="1.3 2.6"/>
<path d="M220.75,1267.00 L223.05,1272.00 L218.45,1272.00 Z" fill="#808080" />
<text x="238.55" y="1274.10" font-size="12.30" style="" fill="#000" >-L / +B</text>
<line x1="212.00" y1="1285.80" x2="229.50" y2="1285.80" stroke="#000" stroke-width="1.6" />
<path d="M218.10,1283.81 L223.40,1283.81 L220.75,1288.45 Z" fill="#000" />
<text x="238.48" y="1290.20" font-size="12.30" style="" fill="#000" >+L / +B</text>
<text x="448.76" y="304.01" font-size="38.5" style="font-weight:bold" fill="#231f20">c</text>
<line x1="506.20" y1="314.19" x2="506.20" y2="474.81" stroke="#000" stroke-width="2.0240000000000005" />
<line x1="506.20" y1="473.80" x2="665.50" y2="473.80" stroke="#000" stroke-width="2.0240000000000005" stroke-linecap="round"/>
<line x1="499.58" y1="460.70" x2="506.20" y2="460.70" stroke="#000" stroke-width="1.84" />
<text x="484.65" y="464.76" font-size="11.80" style="font-weight:bold" fill="#000" stroke="#000" stroke-width="0.3" >40</text>
<line x1="502.34" y1="446.15" x2="506.20" y2="446.15" stroke="#000" stroke-width="1.84" />
<line x1="499.58" y1="431.60" x2="506.20" y2="431.60" stroke="#000" stroke-width="1.84" />
<text x="484.65" y="435.66" font-size="11.80" style="font-weight:bold" fill="#000" stroke="#000" stroke-width="0.3" >60</text>
<line x1="502.34" y1="417.05" x2="506.20" y2="417.05" stroke="#000" stroke-width="1.84" />
<line x1="499.58" y1="402.50" x2="506.20" y2="402.50" stroke="#000" stroke-width="1.84" />
<text x="484.65" y="406.56" font-size="11.80" style="font-weight:bold" fill="#000" stroke="#000" stroke-width="0.3" >80</text>
<line x1="502.34" y1="387.95" x2="506.20" y2="387.95" stroke="#000" stroke-width="1.84" />
<line x1="499.58" y1="373.40" x2="506.20" y2="373.40" stroke="#000" stroke-width="1.84" />
<text x="478.07" y="377.46" font-size="11.80" style="font-weight:bold" fill="#000" stroke="#000" stroke-width="0.3" >100</text>
<line x1="502.34" y1="358.85" x2="506.20" y2="358.85" stroke="#000" stroke-width="1.84" />
<line x1="499.58" y1="344.30" x2="506.20" y2="344.30" stroke="#000" stroke-width="1.84" />
<text x="478.07" y="348.36" font-size="11.80" style="font-weight:bold" fill="#000" stroke="#000" stroke-width="0.3" >120</text>
<line x1="502.34" y1="329.75" x2="506.20" y2="329.75" stroke="#000" stroke-width="1.84" />
<line x1="499.58" y1="315.20" x2="506.20" y2="315.20" stroke="#000" stroke-width="1.84" />
<text x="478.07" y="319.26" font-size="11.80" style="font-weight:bold" fill="#000" stroke="#000" stroke-width="0.3" >140</text>
<text stroke="#000" stroke-width="0.3" transform="translate(469.62,454.94) rotate(-90)" font-size="13.20" style="font-weight:bold" fill="#000">ΔΨm (% of control)</text>
<text x="523.94" y="303.36" font-size="15.40" style="font-weight:bold" fill="#000" stroke="#000" stroke-width="0.3" >15 min treatment</text>
<rect x="517.46" y="374.41" width="19.68" height="99.39" fill="#8aa9d6" stroke="#000" stroke-width="2.02"/>
<rect x="549.26" y="398.91" width="19.68" height="74.89" fill="#f94144" stroke="#000" stroke-width="2.02"/>
<rect x="602.26" y="419.41" width="19.68" height="54.39" fill="#8aa9d6" stroke="#000" stroke-width="2.02"/>
<rect x="634.26" y="433.21" width="19.28" height="40.59" fill="#f94144" stroke="#000" stroke-width="2.02"/>
<line x1="527.30" y1="367.50" x2="527.30" y2="379.20" stroke="#000" stroke-width="1.4720000000000002" />
<line x1="522.24" y1="367.50" x2="532.36" y2="367.50" stroke="#000" stroke-width="1.564" />
<line x1="522.24" y1="379.20" x2="532.36" y2="379.20" stroke="#000" stroke-width="1.564" />
<line x1="559.10" y1="392.50" x2="559.10" y2="403.50" stroke="#000" stroke-width="1.4720000000000002" />
<line x1="554.04" y1="392.50" x2="564.16" y2="392.50" stroke="#000" stroke-width="1.564" />
<line x1="554.04" y1="403.50" x2="564.16" y2="403.50" stroke="#000" stroke-width="1.564" />
<line x1="612.10" y1="414.50" x2="612.10" y2="422.50" stroke="#000" stroke-width="1.4720000000000002" />
<line x1="607.04" y1="414.50" x2="617.16" y2="414.50" stroke="#000" stroke-width="1.564" />
<line x1="607.04" y1="422.50" x2="617.16" y2="422.50" stroke="#000" stroke-width="1.564" />
<line x1="643.90" y1="427.80" x2="643.90" y2="436.50" stroke="#000" stroke-width="1.4720000000000002" />
<line x1="638.84" y1="427.80" x2="648.96" y2="427.80" stroke="#000" stroke-width="1.564" />
<line x1="638.84" y1="436.50" x2="648.96" y2="436.50" stroke="#000" stroke-width="1.564" />
<circle cx="527.30" cy="359.80" r="2.576" fill="#000" stroke="none" stroke-width="0"/>
<circle cx="527.30" cy="368.70" r="2.576" fill="#000" stroke="none" stroke-width="0"/>
<circle cx="527.30" cy="378.00" r="2.576" fill="#000" stroke="none" stroke-width="0"/>
<circle cx="527.30" cy="386.90" r="2.576" fill="#000" stroke="none" stroke-width="0"/>
<path d="M559.10,377.81 L561.94,383.04 L556.26,383.04 Z" fill="none" stroke="#000" stroke-width="1.56" stroke-linejoin="miter"/>
<path d="M554.20,403.01 L557.04,408.24 L551.36,408.24 Z" fill="none" stroke="#000" stroke-width="1.56" stroke-linejoin="miter"/>
<path d="M564.20,400.31 L567.04,405.54 L561.36,405.54 Z" fill="none" stroke="#000" stroke-width="1.56" stroke-linejoin="miter"/>
<path d="M559.10,397.51 L561.94,402.74 L556.26,402.74 Z" fill="none" stroke="#000" stroke-width="1.56" stroke-linejoin="miter"/>
<circle cx="607.00" cy="413.00" r="2.576" fill="#000" stroke="none" stroke-width="0"/>
<circle cx="616.80" cy="413.00" r="2.576" fill="#000" stroke="none" stroke-width="0"/>
<circle cx="607.00" cy="424.30" r="2.576" fill="#000" stroke="none" stroke-width="0"/>
<circle cx="616.80" cy="421.20" r="2.576" fill="#000" stroke="none" stroke-width="0"/>
<path d="M643.70,417.51 L646.54,422.74 L640.86,422.74 Z" fill="none" stroke="#000" stroke-width="1.56" stroke-linejoin="miter"/>
<path d="M643.70,436.51 L646.54,441.74 L640.86,441.74 Z" fill="none" stroke="#000" stroke-width="1.56" stroke-linejoin="miter"/>
<path d="M639.00,431.01 L641.84,436.24 L636.16,436.24 Z" fill="none" stroke="#000" stroke-width="1.56" stroke-linejoin="miter"/>
<path d="M649.50,431.01 L652.34,436.24 L646.66,436.24 Z" fill="none" stroke="#000" stroke-width="1.56" stroke-linejoin="miter"/>
<polyline points="527.30,326.90 527.30,318.70 612.10,318.70 612.10,326.90" fill="none" stroke="#000" stroke-width="1.4720000000000002" />
<path d="M556.04,309.26L556.04,316.34M552.97,311.03L559.11,314.57M559.11,311.03L552.97,314.57M565.15,309.26L565.15,316.34M562.08,311.03L568.21,314.57M568.21,311.03L562.08,314.57M574.25,309.26L574.25,316.34M571.19,311.03L577.32,314.57M577.32,311.03L571.19,314.57M583.36,309.26L583.36,316.34M580.29,311.03L586.43,314.57M586.43,311.03L580.29,314.57" stroke="#000" stroke-width="1.84" stroke-linecap="butt" fill="none"/>
<polyline points="527.30,355.40 527.30,346.00 556.10,346.00 556.10,355.40" fill="none" stroke="#000" stroke-width="1.4720000000000002" />
<path d="M537.15,336.16L537.15,343.24M534.08,337.93L540.21,341.47M540.21,337.93L534.08,341.47M546.25,336.16L546.25,343.24M543.19,337.93L549.32,341.47M549.32,337.93L543.19,341.47" stroke="#000" stroke-width="1.84" stroke-linecap="butt" fill="none"/>
<polyline points="561.90,355.40 561.90,346.00 643.70,346.00 643.70,355.40" fill="none" stroke="#000" stroke-width="1.4720000000000002" />
<path d="M593.69,336.16L593.69,343.24M590.62,337.93L596.76,341.47M596.76,337.93L590.62,341.47M602.80,336.16L602.80,343.24M599.73,337.93L605.87,341.47M605.87,337.93L599.73,341.47M611.91,336.16L611.91,343.24M608.84,337.93L614.98,341.47M614.98,337.93L608.84,341.47" stroke="#000" stroke-width="1.84" stroke-linecap="butt" fill="none"/>
<text x="458.59" y="486.80" font-size="12.00" style="font-weight:bold" fill="#000" stroke="#000" stroke-width="0.3" >L-Lys</text>
<text x="458.59" y="503.90" font-size="12.00" style="font-weight:bold" fill="#000" stroke="#000" stroke-width="0.3" >BAPTA</text>
<line x1="457.60" y1="491.00" x2="667.00" y2="491.00" stroke="#000" stroke-width="2.116" stroke-linecap="round"/>
<text x="526.11" y="486.52" font-size="12.00" style="font-weight:bold" fill="#000" stroke="#000" stroke-width="0.3" >-</text>
<text x="526.11" y="503.02" font-size="12.00" style="font-weight:bold" fill="#000" stroke="#000" stroke-width="0.3" >-</text>
<text x="557.21" y="486.52" font-size="12.00" style="font-weight:bold" fill="#000" stroke="#000" stroke-width="0.3" >-</text>
<text x="555.69" y="503.90" font-size="12.00" style="font-weight:bold" fill="#000" stroke="#000" stroke-width="0.3" >+</text>
<text x="608.89" y="487.40" font-size="12.00" style="font-weight:bold" fill="#000" stroke="#000" stroke-width="0.3" >+</text>
<text x="610.40" y="503.02" font-size="12.00" style="font-weight:bold" fill="#000" stroke="#000" stroke-width="0.3" >-</text>
<text x="640.09" y="487.40" font-size="12.00" style="font-weight:bold" fill="#000" stroke="#000" stroke-width="0.3" >+</text>
<text x="640.09" y="503.90" font-size="12.00" style="font-weight:bold" fill="#000" stroke="#000" stroke-width="0.3" >+</text>
<text x="448.36" y="562.62" font-size="38.5" style="font-weight:bold" fill="#231f20">e</text>
<line x1="505.80" y1="575.30" x2="505.80" y2="750.60" stroke="#000" stroke-width="2.2" />
<line x1="505.80" y1="749.50" x2="680.50" y2="749.50" stroke="#000" stroke-width="2.2" stroke-linecap="round"/>
<line x1="498.60" y1="734.10" x2="505.80" y2="734.10" stroke="#000" stroke-width="2.0" />
<text x="482.30" y="738.53" font-size="12.90" style="font-weight:bold" fill="#000" stroke="#000" stroke-width="0.3" >40</text>
<line x1="501.60" y1="718.33" x2="505.80" y2="718.33" stroke="#000" stroke-width="2.0" />
<line x1="498.60" y1="702.56" x2="505.80" y2="702.56" stroke="#000" stroke-width="2.0" />
<text x="482.30" y="706.99" font-size="12.90" style="font-weight:bold" fill="#000" stroke="#000" stroke-width="0.3" >60</text>
<line x1="501.60" y1="686.79" x2="505.80" y2="686.79" stroke="#000" stroke-width="2.0" />
<line x1="498.60" y1="671.02" x2="505.80" y2="671.02" stroke="#000" stroke-width="2.0" />
<text x="482.30" y="675.45" font-size="12.90" style="font-weight:bold" fill="#000" stroke="#000" stroke-width="0.3" >80</text>
<line x1="501.60" y1="655.25" x2="505.80" y2="655.25" stroke="#000" stroke-width="2.0" />
<line x1="498.60" y1="639.48" x2="505.80" y2="639.48" stroke="#000" stroke-width="2.0" />
<text x="475.11" y="643.91" font-size="12.90" style="font-weight:bold" fill="#000" stroke="#000" stroke-width="0.3" >100</text>
<line x1="501.60" y1="623.71" x2="505.80" y2="623.71" stroke="#000" stroke-width="2.0" />
<line x1="498.60" y1="607.94" x2="505.80" y2="607.94" stroke="#000" stroke-width="2.0" />
<text x="475.11" y="612.37" font-size="12.90" style="font-weight:bold" fill="#000" stroke="#000" stroke-width="0.3" >120</text>
<line x1="501.60" y1="592.17" x2="505.80" y2="592.17" stroke="#000" stroke-width="2.0" />
<line x1="498.60" y1="576.40" x2="505.80" y2="576.40" stroke="#000" stroke-width="2.0" />
<text x="475.11" y="580.83" font-size="12.90" style="font-weight:bold" fill="#000" stroke="#000" stroke-width="0.3" >140</text>
<text stroke="#000" stroke-width="0.3" transform="translate(466.22,724.29) rotate(-90)" font-size="14.00" style="font-weight:bold" fill="#000">ΔΨm (% of control)</text>
<text x="526.02" y="564.49" font-size="16.80" style="font-weight:bold" fill="#000" stroke="#000" stroke-width="0.3" >30 min treatment</text>
<rect x="518.85" y="639.90" width="20.90" height="109.60" fill="#8aa9d6" stroke="#000" stroke-width="2.20"/>
<rect x="553.55" y="676.70" width="21.10" height="72.80" fill="#f94144" stroke="#000" stroke-width="2.20"/>
<rect x="612.15" y="688.80" width="20.10" height="60.70" fill="#8aa9d6" stroke="#000" stroke-width="2.20"/>
<rect x="646.35" y="675.40" width="20.80" height="74.10" fill="#f94144" stroke="#000" stroke-width="2.20"/>
<line x1="529.30" y1="635.30" x2="529.30" y2="642.70" stroke="#000" stroke-width="1.6" />
<line x1="523.80" y1="635.30" x2="534.80" y2="635.30" stroke="#000" stroke-width="1.7" />
<line x1="523.80" y1="642.70" x2="534.80" y2="642.70" stroke="#000" stroke-width="1.7" />
<line x1="564.10" y1="667.10" x2="564.10" y2="684.10" stroke="#000" stroke-width="1.6" />
<line x1="558.60" y1="667.10" x2="569.60" y2="667.10" stroke="#000" stroke-width="1.7" />
<line x1="558.60" y1="684.10" x2="569.60" y2="684.10" stroke="#000" stroke-width="1.7" />
<line x1="622.20" y1="681.50" x2="622.20" y2="696.60" stroke="#000" stroke-width="1.6" />
<line x1="616.70" y1="681.50" x2="627.70" y2="681.50" stroke="#000" stroke-width="1.7" />
<line x1="616.70" y1="696.60" x2="627.70" y2="696.60" stroke="#000" stroke-width="1.7" />
<line x1="656.75" y1="665.10" x2="656.75" y2="683.50" stroke="#000" stroke-width="1.6" />
<line x1="651.25" y1="665.10" x2="662.25" y2="665.10" stroke="#000" stroke-width="1.7" />
<line x1="651.25" y1="683.50" x2="662.25" y2="683.50" stroke="#000" stroke-width="1.7" />
<circle cx="529.40" cy="615.40" r="2.8" fill="#000" stroke="none" stroke-width="0"/>
<circle cx="529.40" cy="626.40" r="2.8" fill="#000" stroke="none" stroke-width="0"/>
<circle cx="520.40" cy="631.60" r="2.8" fill="#000" stroke="none" stroke-width="0"/>
<circle cx="529.40" cy="633.80" r="2.8" fill="#000" stroke="none" stroke-width="0"/>
<circle cx="520.40" cy="638.80" r="2.8" fill="#000" stroke="none" stroke-width="0"/>
<circle cx="538.30" cy="639.60" r="2.8" fill="#000" stroke="none" stroke-width="0"/>
<circle cx="520.40" cy="645.20" r="2.8" fill="#000" stroke="none" stroke-width="0"/>
<circle cx="538.30" cy="645.20" r="2.8" fill="#000" stroke="none" stroke-width="0"/>
<circle cx="529.40" cy="652.70" r="2.8" fill="#000" stroke="none" stroke-width="0"/>
<circle cx="529.40" cy="663.60" r="2.8" fill="#000" stroke="none" stroke-width="0"/>
<path d="M558.70,651.45 L561.79,657.14 L555.61,657.14 Z" fill="none" stroke="#000" stroke-width="1.70" stroke-linejoin="miter"/>
<path d="M558.70,657.85 L561.79,663.54 L555.61,663.54 Z" fill="none" stroke="#000" stroke-width="1.70" stroke-linejoin="miter"/>
<path d="M569.40,655.85 L572.49,661.54 L566.31,661.54 Z" fill="none" stroke="#000" stroke-width="1.70" stroke-linejoin="miter"/>
<path d="M564.10,665.35 L567.19,671.04 L561.01,671.04 Z" fill="none" stroke="#000" stroke-width="1.70" stroke-linejoin="miter"/>
<path d="M564.10,670.25 L567.19,675.94 L561.01,675.94 Z" fill="none" stroke="#000" stroke-width="1.70" stroke-linejoin="miter"/>
<path d="M564.10,694.15 L567.19,699.84 L561.01,699.84 Z" fill="none" stroke="#000" stroke-width="1.70" stroke-linejoin="miter"/>
<path d="M564.10,712.95 L567.19,718.64 L561.01,718.64 Z" fill="none" stroke="#000" stroke-width="1.70" stroke-linejoin="miter"/>
<circle cx="617.50" cy="666.00" r="2.8" fill="#000" stroke="none" stroke-width="0"/>
<circle cx="626.30" cy="665.80" r="2.8" fill="#000" stroke="none" stroke-width="0"/>
<circle cx="621.60" cy="677.50" r="2.8" fill="#000" stroke="none" stroke-width="0"/>
<circle cx="621.60" cy="686.50" r="2.8" fill="#000" stroke="none" stroke-width="0"/>
<circle cx="612.30" cy="687.70" r="2.8" fill="#000" stroke="none" stroke-width="0"/>
<circle cx="631.00" cy="689.20" r="2.8" fill="#000" stroke="none" stroke-width="0"/>
<circle cx="621.60" cy="716.30" r="2.8" fill="#000" stroke="none" stroke-width="0"/>
<circle cx="621.60" cy="723.80" r="2.8" fill="#000" stroke="none" stroke-width="0"/>
<path d="M656.60,622.55 L659.69,628.24 L653.51,628.24 Z" fill="none" stroke="#000" stroke-width="1.70" stroke-linejoin="miter"/>
<path d="M656.60,647.65 L659.69,653.34 L653.51,653.34 Z" fill="none" stroke="#000" stroke-width="1.70" stroke-linejoin="miter"/>
<path d="M651.40,676.25 L654.49,681.94 L648.31,681.94 Z" fill="none" stroke="#000" stroke-width="1.70" stroke-linejoin="miter"/>
<path d="M661.30,671.55 L664.39,677.24 L658.21,677.24 Z" fill="none" stroke="#000" stroke-width="1.70" stroke-linejoin="miter"/>
<path d="M661.90,677.95 L664.99,683.64 L658.81,683.64 Z" fill="none" stroke="#000" stroke-width="1.70" stroke-linejoin="miter"/>
<path d="M656.60,684.45 L659.69,690.14 L653.51,690.14 Z" fill="none" stroke="#000" stroke-width="1.70" stroke-linejoin="miter"/>
<path d="M661.90,690.75 L664.99,696.44 L658.81,696.44 Z" fill="none" stroke="#000" stroke-width="1.70" stroke-linejoin="miter"/>
<path d="M651.40,694.35 L654.49,700.04 L648.31,700.04 Z" fill="none" stroke="#000" stroke-width="1.70" stroke-linejoin="miter"/>
<polyline points="529.20,587.90 529.20,578.40 621.90,578.40 621.90,587.90" fill="none" stroke="#000" stroke-width="1.6" />
<path d="M560.70,568.35L560.70,576.05M557.37,570.28L564.03,574.12M564.03,570.28L557.37,574.12M570.60,568.35L570.60,576.05M567.27,570.28L573.93,574.12M573.93,570.28L567.27,574.12M580.50,568.35L580.50,576.05M577.17,570.28L583.83,574.12M583.83,570.28L577.17,574.12M590.40,568.35L590.40,576.05M587.07,570.28L593.73,574.12M593.73,570.28L587.07,574.12" stroke="#000" stroke-width="2.00" stroke-linecap="butt" fill="none"/>
<polyline points="529.20,609.40 529.20,599.40 564.10,599.40 564.10,609.40" fill="none" stroke="#000" stroke-width="1.6" />
<path d="M541.70,589.15L541.70,596.85M538.37,591.08L545.03,594.92M545.03,591.08L538.37,594.92M551.60,589.15L551.60,596.85M548.27,591.08L554.93,594.92M554.93,591.08L548.27,594.92" stroke="#000" stroke-width="2.00" stroke-linecap="butt" fill="none"/>
<text x="454.02" y="763.30" font-size="13.10" style="font-weight:bold" fill="#000" stroke="#000" stroke-width="0.3" >L-Lys</text>
<text x="454.02" y="782.10" font-size="13.10" style="font-weight:bold" fill="#000" stroke="#000" stroke-width="0.3" >BAPTA</text>
<line x1="453.20" y1="768.00" x2="683.10" y2="768.00" stroke="#000" stroke-width="2.3" stroke-linecap="round"/>
<text x="528.22" y="763.41" font-size="13.10" style="font-weight:bold" fill="#000" stroke="#000" stroke-width="0.3" >-</text>
<text x="528.22" y="780.91" font-size="13.10" style="font-weight:bold" fill="#000" stroke="#000" stroke-width="0.3" >-</text>
<text x="562.32" y="763.41" font-size="13.10" style="font-weight:bold" fill="#000" stroke="#000" stroke-width="0.3" >-</text>
<text x="560.67" y="781.87" font-size="13.10" style="font-weight:bold" fill="#000" stroke="#000" stroke-width="0.3" >+</text>
<text x="617.87" y="764.37" font-size="13.10" style="font-weight:bold" fill="#000" stroke="#000" stroke-width="0.3" >+</text>
<text x="619.52" y="780.91" font-size="13.10" style="font-weight:bold" fill="#000" stroke="#000" stroke-width="0.3" >-</text>
<text x="652.57" y="764.37" font-size="13.10" style="font-weight:bold" fill="#000" stroke="#000" stroke-width="0.3" >+</text>
<text x="652.57" y="781.87" font-size="13.10" style="font-weight:bold" fill="#000" stroke="#000" stroke-width="0.3" >+</text>
<text x="448.96" y="856.32" font-size="38.5" style="font-weight:bold" fill="#231f20">g</text>
<line x1="506.40" y1="867.80" x2="506.40" y2="1044.20" stroke="#000" stroke-width="2.2" />
<line x1="506.40" y1="1043.10" x2="681.00" y2="1043.10" stroke="#000" stroke-width="2.2" stroke-linecap="round"/>
<line x1="499.20" y1="1027.20" x2="506.40" y2="1027.20" stroke="#000" stroke-width="2.0" />
<text x="482.90" y="1031.63" font-size="12.90" style="font-weight:bold" fill="#000" stroke="#000" stroke-width="0.3" >40</text>
<line x1="502.20" y1="1011.37" x2="506.40" y2="1011.37" stroke="#000" stroke-width="2.0" />
<line x1="499.20" y1="995.54" x2="506.40" y2="995.54" stroke="#000" stroke-width="2.0" />
<text x="482.90" y="999.97" font-size="12.90" style="font-weight:bold" fill="#000" stroke="#000" stroke-width="0.3" >60</text>
<line x1="502.20" y1="979.71" x2="506.40" y2="979.71" stroke="#000" stroke-width="2.0" />
<line x1="499.20" y1="963.88" x2="506.40" y2="963.88" stroke="#000" stroke-width="2.0" />
<text x="482.90" y="968.31" font-size="12.90" style="font-weight:bold" fill="#000" stroke="#000" stroke-width="0.3" >80</text>
<line x1="502.20" y1="948.05" x2="506.40" y2="948.05" stroke="#000" stroke-width="2.0" />
<line x1="499.20" y1="932.22" x2="506.40" y2="932.22" stroke="#000" stroke-width="2.0" />
<text x="475.71" y="936.65" font-size="12.90" style="font-weight:bold" fill="#000" stroke="#000" stroke-width="0.3" >100</text>
<line x1="502.20" y1="916.39" x2="506.40" y2="916.39" stroke="#000" stroke-width="2.0" />
<line x1="499.20" y1="900.56" x2="506.40" y2="900.56" stroke="#000" stroke-width="2.0" />
<text x="475.71" y="904.99" font-size="12.90" style="font-weight:bold" fill="#000" stroke="#000" stroke-width="0.3" >120</text>
<line x1="502.20" y1="884.73" x2="506.40" y2="884.73" stroke="#000" stroke-width="2.0" />
<line x1="499.20" y1="868.90" x2="506.40" y2="868.90" stroke="#000" stroke-width="2.0" />
<text x="475.71" y="873.33" font-size="12.90" style="font-weight:bold" fill="#000" stroke="#000" stroke-width="0.3" >140</text>
<text stroke="#000" stroke-width="0.3" transform="translate(466.52,1017.69) rotate(-90)" font-size="14.00" style="font-weight:bold" fill="#000">ΔΨm (% of control)</text>
<text x="540.95" y="855.46" font-size="16.80" style="font-weight:bold" fill="#000" stroke="#000" stroke-width="0.3" >1 h treatment</text>
<rect x="520.25" y="932.60" width="20.30" height="110.50" fill="#8aa9d6" stroke="#000" stroke-width="2.20"/>
<rect x="554.35" y="954.40" width="20.80" height="88.70" fill="#f94144" stroke="#000" stroke-width="2.20"/>
<rect x="612.95" y="993.80" width="20.00" height="49.30" fill="#8aa9d6" stroke="#000" stroke-width="2.20"/>
<rect x="647.15" y="983.80" width="20.50" height="59.30" fill="#f94144" stroke="#000" stroke-width="2.20"/>
<line x1="530.40" y1="927.50" x2="530.40" y2="936.70" stroke="#000" stroke-width="1.6" />
<line x1="524.90" y1="927.50" x2="535.90" y2="927.50" stroke="#000" stroke-width="1.7" />
<line x1="524.90" y1="936.70" x2="535.90" y2="936.70" stroke="#000" stroke-width="1.7" />
<line x1="564.75" y1="949.30" x2="564.75" y2="957.70" stroke="#000" stroke-width="1.6" />
<line x1="559.25" y1="949.30" x2="570.25" y2="949.30" stroke="#000" stroke-width="1.7" />
<line x1="559.25" y1="957.70" x2="570.25" y2="957.70" stroke="#000" stroke-width="1.7" />
<line x1="622.95" y1="988.00" x2="622.95" y2="995.80" stroke="#000" stroke-width="1.6" />
<line x1="617.45" y1="988.00" x2="628.45" y2="988.00" stroke="#000" stroke-width="1.7" />
<line x1="617.45" y1="995.80" x2="628.45" y2="995.80" stroke="#000" stroke-width="1.7" />
<line x1="657.40" y1="978.70" x2="657.40" y2="986.60" stroke="#000" stroke-width="1.6" />
<line x1="651.90" y1="978.70" x2="662.90" y2="978.70" stroke="#000" stroke-width="1.7" />
<line x1="651.90" y1="986.60" x2="662.90" y2="986.60" stroke="#000" stroke-width="1.7" />
<circle cx="530.00" cy="906.00" r="2.8" fill="#000" stroke="none" stroke-width="0"/>
<circle cx="524.70" cy="920.40" r="2.8" fill="#000" stroke="none" stroke-width="0"/>
<circle cx="535.20" cy="921.00" r="2.8" fill="#000" stroke="none" stroke-width="0"/>
<circle cx="520.80" cy="932.80" r="2.8" fill="#000" stroke="none" stroke-width="0"/>
<circle cx="539.20" cy="932.80" r="2.8" fill="#000" stroke="none" stroke-width="0"/>
<circle cx="530.00" cy="933.00" r="2.8" fill="#000" stroke="none" stroke-width="0"/>
<circle cx="525.50" cy="943.30" r="2.8" fill="#000" stroke="none" stroke-width="0"/>
<circle cx="535.20" cy="944.00" r="2.8" fill="#000" stroke="none" stroke-width="0"/>
<circle cx="530.00" cy="959.00" r="2.8" fill="#000" stroke="none" stroke-width="0"/>
<path d="M565.40,924.25 L568.49,929.94 L562.31,929.94 Z" fill="none" stroke="#000" stroke-width="1.70" stroke-linejoin="miter"/>
<path d="M565.40,931.35 L568.49,937.04 L562.31,937.04 Z" fill="none" stroke="#000" stroke-width="1.70" stroke-linejoin="miter"/>
<path d="M565.40,938.15 L568.49,943.84 L562.31,943.84 Z" fill="none" stroke="#000" stroke-width="1.70" stroke-linejoin="miter"/>
<path d="M560.20,944.45 L563.29,950.14 L557.11,950.14 Z" fill="none" stroke="#000" stroke-width="1.70" stroke-linejoin="miter"/>
<path d="M570.20,946.55 L573.29,952.24 L567.11,952.24 Z" fill="none" stroke="#000" stroke-width="1.70" stroke-linejoin="miter"/>
<path d="M565.40,958.45 L568.49,964.14 L562.31,964.14 Z" fill="none" stroke="#000" stroke-width="1.70" stroke-linejoin="miter"/>
<path d="M560.20,964.45 L563.29,970.14 L557.11,970.14 Z" fill="none" stroke="#000" stroke-width="1.70" stroke-linejoin="miter"/>
<path d="M570.20,964.95 L573.29,970.64 L567.11,970.64 Z" fill="none" stroke="#000" stroke-width="1.70" stroke-linejoin="miter"/>
<path d="M560.20,969.75 L563.29,975.44 L557.11,975.44 Z" fill="none" stroke="#000" stroke-width="1.70" stroke-linejoin="miter"/>
<circle cx="617.50" cy="974.50" r="2.8" fill="#000" stroke="none" stroke-width="0"/>
<circle cx="628.00" cy="977.40" r="2.8" fill="#000" stroke="none" stroke-width="0"/>
<circle cx="622.80" cy="982.70" r="2.8" fill="#000" stroke="none" stroke-width="0"/>
<circle cx="617.30" cy="988.50" r="2.8" fill="#000" stroke="none" stroke-width="0"/>
<circle cx="628.00" cy="988.50" r="2.8" fill="#000" stroke="none" stroke-width="0"/>
<circle cx="622.80" cy="1001.20" r="2.8" fill="#000" stroke="none" stroke-width="0"/>
<circle cx="617.50" cy="1011.90" r="2.8" fill="#000" stroke="none" stroke-width="0"/>
<circle cx="628.00" cy="1009.60" r="2.8" fill="#000" stroke="none" stroke-width="0"/>
<path d="M657.20,959.35 L660.29,965.04 L654.11,965.04 Z" fill="none" stroke="#000" stroke-width="1.70" stroke-linejoin="miter"/>
<path d="M654.30,968.35 L657.39,974.04 L651.21,974.04 Z" fill="none" stroke="#000" stroke-width="1.70" stroke-linejoin="miter"/>
<path d="M660.70,967.15 L663.79,972.84 L657.61,972.84 Z" fill="none" stroke="#000" stroke-width="1.70" stroke-linejoin="miter"/>
<path d="M649.00,987.05 L652.09,992.74 L645.91,992.74 Z" fill="none" stroke="#000" stroke-width="1.70" stroke-linejoin="miter"/>
<path d="M653.70,984.15 L656.79,989.84 L650.61,989.84 Z" fill="none" stroke="#000" stroke-width="1.70" stroke-linejoin="miter"/>
<path d="M660.70,987.05 L663.79,992.74 L657.61,992.74 Z" fill="none" stroke="#000" stroke-width="1.70" stroke-linejoin="miter"/>
<path d="M666.00,987.65 L669.09,993.34 L662.91,993.34 Z" fill="none" stroke="#000" stroke-width="1.70" stroke-linejoin="miter"/>
<path d="M647.90,990.55 L650.99,996.24 L644.81,996.24 Z" fill="none" stroke="#000" stroke-width="1.70" stroke-linejoin="miter"/>
<path d="M659.60,989.35 L662.69,995.04 L656.51,995.04 Z" fill="none" stroke="#000" stroke-width="1.70" stroke-linejoin="miter"/>
<polyline points="530.00,880.20 530.00,869.70 623.20,869.70 623.20,880.20" fill="none" stroke="#000" stroke-width="1.6" />
<path d="M561.75,859.25L561.75,866.95M558.42,861.18L565.08,865.02M565.08,861.18L558.42,865.02M571.65,859.25L571.65,866.95M568.32,861.18L574.98,865.02M574.98,861.18L568.32,865.02M581.55,859.25L581.55,866.95M578.22,861.18L584.88,865.02M584.88,861.18L578.22,865.02M591.45,859.25L591.45,866.95M588.12,861.18L594.78,865.02M594.78,861.18L588.12,865.02" stroke="#000" stroke-width="2.00" stroke-linecap="butt" fill="none"/>
<polyline points="530.00,901.20 530.00,890.70 565.40,890.70 565.40,901.20" fill="none" stroke="#000" stroke-width="1.6" />
<path d="M547.70,880.35L547.70,888.05M544.37,882.28L551.03,886.12M551.03,882.28L544.37,886.12" stroke="#000" stroke-width="2.00" stroke-linecap="butt" fill="none"/>
<polyline points="565.40,917.00 565.40,906.50 657.40,906.50 657.40,917.00" fill="none" stroke="#000" stroke-width="1.6" />
<path d="M601.50,896.15L601.50,903.85M598.17,898.08L604.83,901.92M604.83,898.08L598.17,901.92M611.40,896.15L611.40,903.85M608.07,898.08L614.73,901.92M614.73,898.08L608.07,901.92M621.30,896.15L621.30,903.85M617.97,898.08L624.63,901.92M624.63,898.08L617.97,901.92" stroke="#000" stroke-width="2.00" stroke-linecap="butt" fill="none"/>
<text x="455.22" y="1057.50" font-size="13.10" style="font-weight:bold" fill="#000" stroke="#000" stroke-width="0.3" >L-Lys</text>
<text x="455.22" y="1075.50" font-size="13.10" style="font-weight:bold" fill="#000" stroke="#000" stroke-width="0.3" >BAPTA</text>
<line x1="455.30" y1="1061.40" x2="683.10" y2="1061.40" stroke="#000" stroke-width="2.3" stroke-linecap="round"/>
<text x="529.02" y="1056.61" font-size="13.10" style="font-weight:bold" fill="#000" stroke="#000" stroke-width="0.3" >-</text>
<text x="529.02" y="1074.21" font-size="13.10" style="font-weight:bold" fill="#000" stroke="#000" stroke-width="0.3" >-</text>
<text x="563.02" y="1056.61" font-size="13.10" style="font-weight:bold" fill="#000" stroke="#000" stroke-width="0.3" >-</text>
<text x="561.37" y="1075.17" font-size="13.10" style="font-weight:bold" fill="#000" stroke="#000" stroke-width="0.3" >+</text>
<text x="619.27" y="1057.57" font-size="13.10" style="font-weight:bold" fill="#000" stroke="#000" stroke-width="0.3" >+</text>
<text x="620.92" y="1074.21" font-size="13.10" style="font-weight:bold" fill="#000" stroke="#000" stroke-width="0.3" >-</text>
<text x="653.27" y="1057.57" font-size="13.10" style="font-weight:bold" fill="#000" stroke="#000" stroke-width="0.3" >+</text>
<text x="653.27" y="1075.17" font-size="13.10" style="font-weight:bold" fill="#000" stroke="#000" stroke-width="0.3" >+</text>
<text x="449.20" y="1135.90" font-size="38.5" style="font-weight:bold" fill="#231f20">i</text>
<line x1="506.90" y1="1134.70" x2="506.90" y2="1310.50" stroke="#000" stroke-width="2.2" />
<line x1="506.90" y1="1309.40" x2="681.00" y2="1309.40" stroke="#000" stroke-width="2.2" stroke-linecap="round"/>
<line x1="499.70" y1="1294.20" x2="506.90" y2="1294.20" stroke="#000" stroke-width="2.0" />
<text x="483.40" y="1298.63" font-size="12.90" style="font-weight:bold" fill="#000" stroke="#000" stroke-width="0.3" >40</text>
<line x1="502.70" y1="1278.36" x2="506.90" y2="1278.36" stroke="#000" stroke-width="2.0" />
<line x1="499.70" y1="1262.52" x2="506.90" y2="1262.52" stroke="#000" stroke-width="2.0" />
<text x="483.40" y="1266.95" font-size="12.90" style="font-weight:bold" fill="#000" stroke="#000" stroke-width="0.3" >60</text>
<line x1="502.70" y1="1246.68" x2="506.90" y2="1246.68" stroke="#000" stroke-width="2.0" />
<line x1="499.70" y1="1230.84" x2="506.90" y2="1230.84" stroke="#000" stroke-width="2.0" />
<text x="483.40" y="1235.27" font-size="12.90" style="font-weight:bold" fill="#000" stroke="#000" stroke-width="0.3" >80</text>
<line x1="502.70" y1="1215.00" x2="506.90" y2="1215.00" stroke="#000" stroke-width="2.0" />
<line x1="499.70" y1="1199.16" x2="506.90" y2="1199.16" stroke="#000" stroke-width="2.0" />
<text x="476.21" y="1203.59" font-size="12.90" style="font-weight:bold" fill="#000" stroke="#000" stroke-width="0.3" >100</text>
<line x1="502.70" y1="1183.32" x2="506.90" y2="1183.32" stroke="#000" stroke-width="2.0" />
<line x1="499.70" y1="1167.48" x2="506.90" y2="1167.48" stroke="#000" stroke-width="2.0" />
<text x="476.21" y="1171.91" font-size="12.90" style="font-weight:bold" fill="#000" stroke="#000" stroke-width="0.3" >120</text>
<line x1="502.70" y1="1151.64" x2="506.90" y2="1151.64" stroke="#000" stroke-width="2.0" />
<line x1="499.70" y1="1135.80" x2="506.90" y2="1135.80" stroke="#000" stroke-width="2.0" />
<text x="476.21" y="1140.23" font-size="12.90" style="font-weight:bold" fill="#000" stroke="#000" stroke-width="0.3" >140</text>
<text stroke="#000" stroke-width="0.3" transform="translate(466.52,1285.59) rotate(-90)" font-size="14.00" style="font-weight:bold" fill="#000">ΔΨm (% of control)</text>
<text x="540.81" y="1124.51" font-size="16.80" style="font-weight:bold" fill="#000" stroke="#000" stroke-width="0.3" >2 h treatment</text>
<rect x="520.25" y="1200.70" width="20.30" height="108.70" fill="#8aa9d6" stroke="#000" stroke-width="2.20"/>
<rect x="554.35" y="1239.40" width="20.80" height="70.00" fill="#f94144" stroke="#000" stroke-width="2.20"/>
<rect x="612.95" y="1273.80" width="20.00" height="35.60" fill="#8aa9d6" stroke="#000" stroke-width="2.20"/>
<rect x="647.15" y="1266.40" width="20.50" height="43.00" fill="#f94144" stroke="#000" stroke-width="2.20"/>
<line x1="530.40" y1="1193.00" x2="530.40" y2="1205.00" stroke="#000" stroke-width="1.6" />
<line x1="524.90" y1="1193.00" x2="535.90" y2="1193.00" stroke="#000" stroke-width="1.7" />
<line x1="524.90" y1="1205.00" x2="535.90" y2="1205.00" stroke="#000" stroke-width="1.7" />
<line x1="564.75" y1="1227.70" x2="564.75" y2="1247.70" stroke="#000" stroke-width="1.6" />
<line x1="559.25" y1="1227.70" x2="570.25" y2="1227.70" stroke="#000" stroke-width="1.7" />
<line x1="559.25" y1="1247.70" x2="570.25" y2="1247.70" stroke="#000" stroke-width="1.7" />
<line x1="622.95" y1="1264.00" x2="622.95" y2="1280.30" stroke="#000" stroke-width="1.6" />
<line x1="617.45" y1="1264.00" x2="628.45" y2="1264.00" stroke="#000" stroke-width="1.7" />
<line x1="617.45" y1="1280.30" x2="628.45" y2="1280.30" stroke="#000" stroke-width="1.7" />
<line x1="657.40" y1="1256.10" x2="657.40" y2="1273.20" stroke="#000" stroke-width="1.6" />
<line x1="651.90" y1="1256.10" x2="662.90" y2="1256.10" stroke="#000" stroke-width="1.7" />
<line x1="651.90" y1="1273.20" x2="662.90" y2="1273.20" stroke="#000" stroke-width="1.7" />
<circle cx="524.70" cy="1177.30" r="2.8" fill="#000" stroke="none" stroke-width="0"/>
<circle cx="535.20" cy="1176.00" r="2.8" fill="#000" stroke="none" stroke-width="0"/>
<circle cx="524.70" cy="1195.70" r="2.8" fill="#000" stroke="none" stroke-width="0"/>
<circle cx="535.20" cy="1195.70" r="2.8" fill="#000" stroke="none" stroke-width="0"/>
<circle cx="530.00" cy="1198.00" r="2.8" fill="#000" stroke="none" stroke-width="0"/>
<circle cx="524.70" cy="1222.00" r="2.8" fill="#000" stroke="none" stroke-width="0"/>
<circle cx="535.20" cy="1220.60" r="2.8" fill="#000" stroke="none" stroke-width="0"/>
<path d="M564.90,1197.15 L567.99,1202.84 L561.81,1202.84 Z" fill="none" stroke="#000" stroke-width="1.70" stroke-linejoin="miter"/>
<path d="M559.70,1208.25 L562.79,1213.94 L556.61,1213.94 Z" fill="none" stroke="#000" stroke-width="1.70" stroke-linejoin="miter"/>
<path d="M570.20,1212.15 L573.29,1217.84 L567.11,1217.84 Z" fill="none" stroke="#000" stroke-width="1.70" stroke-linejoin="miter"/>
<path d="M564.90,1221.35 L567.99,1227.04 L561.81,1227.04 Z" fill="none" stroke="#000" stroke-width="1.70" stroke-linejoin="miter"/>
<path d="M564.90,1246.25 L567.99,1251.94 L561.81,1251.94 Z" fill="none" stroke="#000" stroke-width="1.70" stroke-linejoin="miter"/>
<path d="M559.70,1255.45 L562.79,1261.14 L556.61,1261.14 Z" fill="none" stroke="#000" stroke-width="1.70" stroke-linejoin="miter"/>
<path d="M570.20,1260.75 L573.29,1266.44 L567.11,1266.44 Z" fill="none" stroke="#000" stroke-width="1.70" stroke-linejoin="miter"/>
<path d="M564.90,1274.45 L567.99,1280.14 L561.81,1280.14 Z" fill="none" stroke="#000" stroke-width="1.70" stroke-linejoin="miter"/>
<circle cx="622.70" cy="1237.70" r="2.8" fill="#000" stroke="none" stroke-width="0"/>
<circle cx="617.50" cy="1254.00" r="2.8" fill="#000" stroke="none" stroke-width="0"/>
<circle cx="628.00" cy="1254.00" r="2.8" fill="#000" stroke="none" stroke-width="0"/>
<circle cx="622.70" cy="1265.30" r="2.8" fill="#000" stroke="none" stroke-width="0"/>
<circle cx="617.50" cy="1285.00" r="2.8" fill="#000" stroke="none" stroke-width="0"/>
<circle cx="628.00" cy="1282.90" r="2.8" fill="#000" stroke="none" stroke-width="0"/>
<circle cx="622.70" cy="1289.70" r="2.8" fill="#000" stroke="none" stroke-width="0"/>
<circle cx="622.70" cy="1306.00" r="2.8" fill="#000" stroke="none" stroke-width="0"/>
<path d="M657.40,1231.35 L660.49,1237.04 L654.31,1237.04 Z" fill="none" stroke="#000" stroke-width="1.70" stroke-linejoin="miter"/>
<path d="M652.10,1238.45 L655.19,1244.14 L649.01,1244.14 Z" fill="none" stroke="#000" stroke-width="1.70" stroke-linejoin="miter"/>
<path d="M662.60,1240.25 L665.69,1245.94 L659.51,1245.94 Z" fill="none" stroke="#000" stroke-width="1.70" stroke-linejoin="miter"/>
<path d="M657.40,1254.15 L660.49,1259.84 L654.31,1259.84 Z" fill="none" stroke="#000" stroke-width="1.70" stroke-linejoin="miter"/>
<path d="M657.40,1269.95 L660.49,1275.64 L654.31,1275.64 Z" fill="none" stroke="#000" stroke-width="1.70" stroke-linejoin="miter"/>
<path d="M652.10,1279.15 L655.19,1284.84 L649.01,1284.84 Z" fill="none" stroke="#000" stroke-width="1.70" stroke-linejoin="miter"/>
<path d="M662.60,1280.45 L665.69,1286.14 L659.51,1286.14 Z" fill="none" stroke="#000" stroke-width="1.70" stroke-linejoin="miter"/>
<path d="M657.40,1298.85 L660.49,1304.54 L654.31,1304.54 Z" fill="none" stroke="#000" stroke-width="1.70" stroke-linejoin="miter"/>
<polyline points="530.00,1155.70 530.00,1145.80 623.20,1145.80 623.20,1155.70" fill="none" stroke="#000" stroke-width="1.6" />
<path d="M561.75,1135.65L561.75,1143.35M558.42,1137.58L565.08,1141.42M565.08,1137.58L558.42,1141.42M571.65,1135.65L571.65,1143.35M568.32,1137.58L574.98,1141.42M574.98,1137.58L568.32,1141.42M581.55,1135.65L581.55,1143.35M578.22,1137.58L584.88,1141.42M584.88,1137.58L578.22,1141.42M591.45,1135.65L591.45,1143.35M588.12,1137.58L594.78,1141.42M594.78,1137.58L588.12,1141.42" stroke="#000" stroke-width="2.00" stroke-linecap="butt" fill="none"/>
<polyline points="530.00,1176.00 530.00,1165.50 564.90,1165.50 564.90,1176.00" fill="none" stroke="#000" stroke-width="1.6" />
<path d="M542.50,1155.45L542.50,1163.15M539.17,1157.38L545.83,1161.22M545.83,1157.38L539.17,1161.22M552.40,1155.45L552.40,1163.15M549.07,1157.38L555.73,1161.22M555.73,1157.38L549.07,1161.22" stroke="#000" stroke-width="2.00" stroke-linecap="butt" fill="none"/>
<text x="454.72" y="1323.60" font-size="13.10" style="font-weight:bold" fill="#000" stroke="#000" stroke-width="0.3" >L-Lys</text>
<text x="454.72" y="1341.60" font-size="13.10" style="font-weight:bold" fill="#000" stroke="#000" stroke-width="0.3" >BAPTA</text>
<line x1="454.20" y1="1327.60" x2="683.10" y2="1327.60" stroke="#000" stroke-width="2.3" stroke-linecap="round"/>
<text x="529.02" y="1322.61" font-size="13.10" style="font-weight:bold" fill="#000" stroke="#000" stroke-width="0.3" >-</text>
<text x="529.02" y="1341.01" font-size="13.10" style="font-weight:bold" fill="#000" stroke="#000" stroke-width="0.3" >-</text>
<text x="562.82" y="1322.61" font-size="13.10" style="font-weight:bold" fill="#000" stroke="#000" stroke-width="0.3" >-</text>
<text x="561.17" y="1341.97" font-size="13.10" style="font-weight:bold" fill="#000" stroke="#000" stroke-width="0.3" >+</text>
<text x="618.87" y="1323.57" font-size="13.10" style="font-weight:bold" fill="#000" stroke="#000" stroke-width="0.3" >+</text>
<text x="620.52" y="1341.01" font-size="13.10" style="font-weight:bold" fill="#000" stroke="#000" stroke-width="0.3" >-</text>
<text x="653.57" y="1323.57" font-size="13.10" style="font-weight:bold" fill="#000" stroke="#000" stroke-width="0.3" >+</text>
<text x="653.57" y="1341.97" font-size="13.10" style="font-weight:bold" fill="#000" stroke="#000" stroke-width="0.3" >+</text>
</svg>
</body></html>
